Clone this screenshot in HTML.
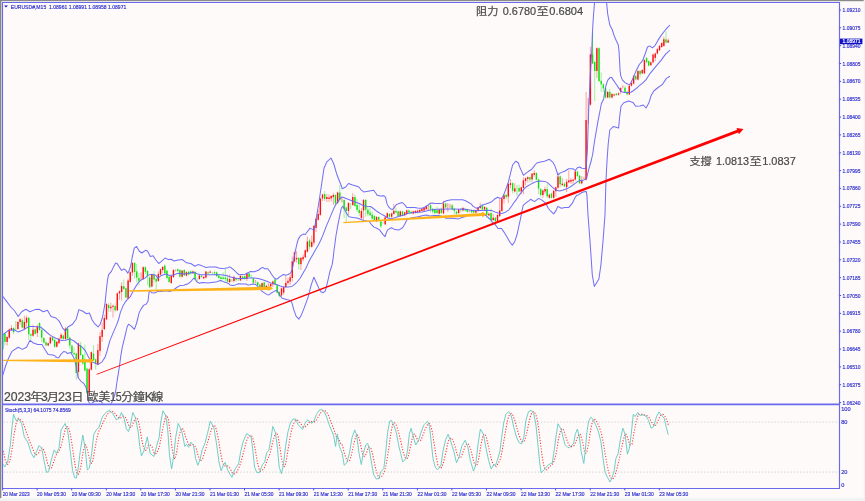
<!DOCTYPE html>
<html lang="zh-Hant"><head><meta charset="utf-8"><title>EURUSD M15</title>
<style>
html,body{margin:0;padding:0;background:#fdfaf9;}
body{width:865px;height:501px;overflow:hidden;font-family:"Liberation Sans","Noto Sans CJK TC",sans-serif;}
svg{display:block}
.ax{font-family:"Liberation Sans",sans-serif;font-size:5.6px;fill:#3232d0;stroke:#3232d0;stroke-width:0.18px;}
.note{font-family:"Liberation Sans","Noto Sans CJK TC",sans-serif;fill:#4a4a4a;stroke:#4a4a4a;stroke-width:0.22px;}
</style></head><body>
<svg width="865" height="501" viewBox="0 0 865 501">
<defs>
<clipPath id="main"><rect x="3" y="3" width="836.5" height="400.5"/></clipPath>
<clipPath id="sub"><rect x="3" y="405" width="836.5" height="83"/></clipPath>
</defs>
<rect width="865" height="501" fill="#fdfaf9"/>
<rect x="0" y="0" width="864" height="1.2" fill="#8a8a8a"/>
<rect x="0" y="0" width="1.35" height="498.3" fill="#868686"/>
<rect x="863.7" y="0" width="1.3" height="501" fill="#f4f3f3"/>
<rect x="0" y="498.3" width="865" height="2.7" fill="#f3f2f2"/>

<g stroke="#6a6aee" stroke-width="1.15" fill="none">
<line x1="2" y1="2.5" x2="840" y2="2.5"/>
<line x1="2.5" y1="2" x2="2.5" y2="489"/>
<line x1="839.5" y1="2" x2="839.5" y2="489"/>
<line x1="2" y1="404.4" x2="840" y2="404.4" stroke-width="1.8"/>
<line x1="2" y1="488.5" x2="840" y2="488.5"/>
</g>
<g class="ax">
<line x1="839.5" y1="10.0" x2="841.1" y2="10.0" stroke="#4a4ae0" stroke-width="1"/>
<text x="842.6" y="12.0" textLength="17.8" lengthAdjust="spacingAndGlyphs">1.09210</text>
<line x1="839.5" y1="27.8" x2="841.1" y2="27.8" stroke="#4a4ae0" stroke-width="1"/>
<text x="842.6" y="29.8" textLength="17.8" lengthAdjust="spacingAndGlyphs">1.09075</text>
<line x1="839.5" y1="45.7" x2="841.1" y2="45.7" stroke="#4a4ae0" stroke-width="1"/>
<text x="842.6" y="47.7" textLength="17.8" lengthAdjust="spacingAndGlyphs">1.08940</text>
<line x1="839.5" y1="63.5" x2="841.1" y2="63.5" stroke="#4a4ae0" stroke-width="1"/>
<text x="842.6" y="65.5" textLength="17.8" lengthAdjust="spacingAndGlyphs">1.08805</text>
<line x1="839.5" y1="81.4" x2="841.1" y2="81.4" stroke="#4a4ae0" stroke-width="1"/>
<text x="842.6" y="83.4" textLength="17.8" lengthAdjust="spacingAndGlyphs">1.08670</text>
<line x1="839.5" y1="99.2" x2="841.1" y2="99.2" stroke="#4a4ae0" stroke-width="1"/>
<text x="842.6" y="101.2" textLength="17.8" lengthAdjust="spacingAndGlyphs">1.08535</text>
<line x1="839.5" y1="117.1" x2="841.1" y2="117.1" stroke="#4a4ae0" stroke-width="1"/>
<text x="842.6" y="119.1" textLength="17.8" lengthAdjust="spacingAndGlyphs">1.08400</text>
<line x1="839.5" y1="134.9" x2="841.1" y2="134.9" stroke="#4a4ae0" stroke-width="1"/>
<text x="842.6" y="136.9" textLength="17.8" lengthAdjust="spacingAndGlyphs">1.08265</text>
<line x1="839.5" y1="152.8" x2="841.1" y2="152.8" stroke="#4a4ae0" stroke-width="1"/>
<text x="842.6" y="154.8" textLength="17.8" lengthAdjust="spacingAndGlyphs">1.08130</text>
<line x1="839.5" y1="170.6" x2="841.1" y2="170.6" stroke="#4a4ae0" stroke-width="1"/>
<text x="842.6" y="172.6" textLength="17.8" lengthAdjust="spacingAndGlyphs">1.07995</text>
<line x1="839.5" y1="188.4" x2="841.1" y2="188.4" stroke="#4a4ae0" stroke-width="1"/>
<text x="842.6" y="190.4" textLength="17.8" lengthAdjust="spacingAndGlyphs">1.07860</text>
<line x1="839.5" y1="206.3" x2="841.1" y2="206.3" stroke="#4a4ae0" stroke-width="1"/>
<text x="842.6" y="208.3" textLength="17.8" lengthAdjust="spacingAndGlyphs">1.07725</text>
<line x1="839.5" y1="224.1" x2="841.1" y2="224.1" stroke="#4a4ae0" stroke-width="1"/>
<text x="842.6" y="226.1" textLength="17.8" lengthAdjust="spacingAndGlyphs">1.07590</text>
<line x1="839.5" y1="242.0" x2="841.1" y2="242.0" stroke="#4a4ae0" stroke-width="1"/>
<text x="842.6" y="244.0" textLength="17.8" lengthAdjust="spacingAndGlyphs">1.07455</text>
<line x1="839.5" y1="259.8" x2="841.1" y2="259.8" stroke="#4a4ae0" stroke-width="1"/>
<text x="842.6" y="261.8" textLength="17.8" lengthAdjust="spacingAndGlyphs">1.07320</text>
<line x1="839.5" y1="277.7" x2="841.1" y2="277.7" stroke="#4a4ae0" stroke-width="1"/>
<text x="842.6" y="279.7" textLength="17.8" lengthAdjust="spacingAndGlyphs">1.07185</text>
<line x1="839.5" y1="295.5" x2="841.1" y2="295.5" stroke="#4a4ae0" stroke-width="1"/>
<text x="842.6" y="297.5" textLength="17.8" lengthAdjust="spacingAndGlyphs">1.07050</text>
<line x1="839.5" y1="313.4" x2="841.1" y2="313.4" stroke="#4a4ae0" stroke-width="1"/>
<text x="842.6" y="315.4" textLength="17.8" lengthAdjust="spacingAndGlyphs">1.06915</text>
<line x1="839.5" y1="331.2" x2="841.1" y2="331.2" stroke="#4a4ae0" stroke-width="1"/>
<text x="842.6" y="333.2" textLength="17.8" lengthAdjust="spacingAndGlyphs">1.06780</text>
<line x1="839.5" y1="349.1" x2="841.1" y2="349.1" stroke="#4a4ae0" stroke-width="1"/>
<text x="842.6" y="351.1" textLength="17.8" lengthAdjust="spacingAndGlyphs">1.06645</text>
<line x1="839.5" y1="366.9" x2="841.1" y2="366.9" stroke="#4a4ae0" stroke-width="1"/>
<text x="842.6" y="368.9" textLength="17.8" lengthAdjust="spacingAndGlyphs">1.06510</text>
<line x1="839.5" y1="384.7" x2="841.1" y2="384.7" stroke="#4a4ae0" stroke-width="1"/>
<text x="842.6" y="386.7" textLength="17.8" lengthAdjust="spacingAndGlyphs">1.06375</text>
<line x1="839.5" y1="402.6" x2="841.1" y2="402.6" stroke="#4a4ae0" stroke-width="1"/>
<text x="842.6" y="404.6" textLength="17.8" lengthAdjust="spacingAndGlyphs">1.06240</text>
<text x="841.2" y="411.0">100</text>
<text x="841.2" y="424.2">80</text>
<text x="841.2" y="474.1">20</text>
<text x="841.2" y="486.9">0</text>
</g>
<rect x="840" y="38.6" width="22.4" height="5.6" fill="#1010c8"/>
<text x="842.6" y="43.3" class="ax" style="fill:#fff;stroke:#fff" textLength="17.8" lengthAdjust="spacingAndGlyphs">1.08971</text>
<g class="ax">
<line x1="2.7" y1="488.5" x2="2.7" y2="490.4" stroke="#4a4ae0" stroke-width="1"/>
<text x="2.7" y="495.9" textLength="27.0" lengthAdjust="spacingAndGlyphs">20 Mar 2023</text>
<line x1="37.1" y1="488.5" x2="37.1" y2="490.4" stroke="#4a4ae0" stroke-width="1"/>
<text x="37.1" y="495.9" textLength="29.0" lengthAdjust="spacingAndGlyphs">20 Mar 05:30</text>
<line x1="71.7" y1="488.5" x2="71.7" y2="490.4" stroke="#4a4ae0" stroke-width="1"/>
<text x="71.7" y="495.9" textLength="29.0" lengthAdjust="spacingAndGlyphs">20 Mar 09:30</text>
<line x1="106.3" y1="488.5" x2="106.3" y2="490.4" stroke="#4a4ae0" stroke-width="1"/>
<text x="106.3" y="495.9" textLength="29.0" lengthAdjust="spacingAndGlyphs">20 Mar 13:30</text>
<line x1="140.8" y1="488.5" x2="140.8" y2="490.4" stroke="#4a4ae0" stroke-width="1"/>
<text x="140.8" y="495.9" textLength="29.0" lengthAdjust="spacingAndGlyphs">20 Mar 17:30</text>
<line x1="175.4" y1="488.5" x2="175.4" y2="490.4" stroke="#4a4ae0" stroke-width="1"/>
<text x="175.4" y="495.9" textLength="29.0" lengthAdjust="spacingAndGlyphs">20 Mar 21:30</text>
<line x1="210.0" y1="488.5" x2="210.0" y2="490.4" stroke="#4a4ae0" stroke-width="1"/>
<text x="210.0" y="495.9" textLength="29.0" lengthAdjust="spacingAndGlyphs">21 Mar 01:30</text>
<line x1="244.5" y1="488.5" x2="244.5" y2="490.4" stroke="#4a4ae0" stroke-width="1"/>
<text x="244.5" y="495.9" textLength="29.0" lengthAdjust="spacingAndGlyphs">21 Mar 05:30</text>
<line x1="279.1" y1="488.5" x2="279.1" y2="490.4" stroke="#4a4ae0" stroke-width="1"/>
<text x="279.1" y="495.9" textLength="29.0" lengthAdjust="spacingAndGlyphs">21 Mar 09:30</text>
<line x1="313.7" y1="488.5" x2="313.7" y2="490.4" stroke="#4a4ae0" stroke-width="1"/>
<text x="313.7" y="495.9" textLength="29.0" lengthAdjust="spacingAndGlyphs">21 Mar 13:30</text>
<line x1="348.2" y1="488.5" x2="348.2" y2="490.4" stroke="#4a4ae0" stroke-width="1"/>
<text x="348.2" y="495.9" textLength="29.0" lengthAdjust="spacingAndGlyphs">21 Mar 17:30</text>
<line x1="382.8" y1="488.5" x2="382.8" y2="490.4" stroke="#4a4ae0" stroke-width="1"/>
<text x="382.8" y="495.9" textLength="29.0" lengthAdjust="spacingAndGlyphs">21 Mar 21:30</text>
<line x1="417.4" y1="488.5" x2="417.4" y2="490.4" stroke="#4a4ae0" stroke-width="1"/>
<text x="417.4" y="495.9" textLength="29.0" lengthAdjust="spacingAndGlyphs">22 Mar 01:30</text>
<line x1="451.9" y1="488.5" x2="451.9" y2="490.4" stroke="#4a4ae0" stroke-width="1"/>
<text x="451.9" y="495.9" textLength="29.0" lengthAdjust="spacingAndGlyphs">22 Mar 05:30</text>
<line x1="486.5" y1="488.5" x2="486.5" y2="490.4" stroke="#4a4ae0" stroke-width="1"/>
<text x="486.5" y="495.9" textLength="29.0" lengthAdjust="spacingAndGlyphs">22 Mar 09:30</text>
<line x1="521.1" y1="488.5" x2="521.1" y2="490.4" stroke="#4a4ae0" stroke-width="1"/>
<text x="521.1" y="495.9" textLength="29.0" lengthAdjust="spacingAndGlyphs">22 Mar 13:30</text>
<line x1="555.6" y1="488.5" x2="555.6" y2="490.4" stroke="#4a4ae0" stroke-width="1"/>
<text x="555.6" y="495.9" textLength="29.0" lengthAdjust="spacingAndGlyphs">22 Mar 17:30</text>
<line x1="590.2" y1="488.5" x2="590.2" y2="490.4" stroke="#4a4ae0" stroke-width="1"/>
<text x="590.2" y="495.9" textLength="29.0" lengthAdjust="spacingAndGlyphs">22 Mar 21:30</text>
<line x1="624.8" y1="488.5" x2="624.8" y2="490.4" stroke="#4a4ae0" stroke-width="1"/>
<text x="624.8" y="495.9" textLength="29.0" lengthAdjust="spacingAndGlyphs">23 Mar 01:30</text>
<line x1="659.3" y1="488.5" x2="659.3" y2="490.4" stroke="#4a4ae0" stroke-width="1"/>
<text x="659.3" y="495.9" textLength="29.0" lengthAdjust="spacingAndGlyphs">23 Mar 05:30</text>
</g>
<path d="M4.1 5.6 L7.9 5.6 L6 7.6 Z" fill="#1818c8"/>
<text x="10.8" y="8.5" class="ax" textLength="115.5" lengthAdjust="spacingAndGlyphs" style="white-space:pre">EURUSD#,M15  1.08961 1.08991 1.08958 1.08971</text>
<text x="4.9" y="412" class="ax" textLength="66" lengthAdjust="spacingAndGlyphs">Stoch(5,3,3) 64.1075 74.8569</text>
<g stroke="#cccccc" stroke-width="0.9" stroke-dasharray="1.3 1.9" fill="none">
<line x1="3.5" y1="422.1" x2="839" y2="422.1"/><line x1="3.5" y1="472.1" x2="839" y2="472.1"/></g>
<g clip-path="url(#sub)" fill="none" stroke-linejoin="round">
<polyline points="3.2,450.9 4.3,455.7 5.4,460.5 6.4,462.5 7.5,464.5 8.6,463.4 9.7,460.9 10.7,457.1 11.8,450.7 12.9,443.6 14.0,434.8 15.1,429.2 16.1,423.5 17.2,420.5 18.3,418.2 19.4,418.8 20.5,420.0 21.5,420.8 22.6,422.0 23.7,424.3 24.8,427.5 25.8,430.6 26.9,433.8 28.0,436.9 29.1,440.1 30.2,442.5 31.2,445.1 32.3,447.8 33.4,450.4 34.5,453.1 35.6,454.1 36.6,454.8 37.7,453.7 38.8,452.7 39.9,450.4 40.9,449.0 42.0,447.9 43.1,448.9 44.2,450.6 45.3,454.3 46.3,458.3 47.4,462.8 48.5,466.3 49.6,468.7 50.7,468.7 51.7,467.6 52.8,464.6 53.9,461.2 55.0,457.4 56.0,455.2 57.1,453.3 58.2,451.9 59.3,450.6 60.4,448.1 61.4,444.6 62.5,440.3 63.6,435.9 64.7,431.7 65.8,427.6 66.8,426.8 67.9,426.7 69.0,429.4 70.1,432.8 71.1,438.9 72.2,445.7 73.3,453.7 74.4,460.7 75.5,467.5 76.5,471.7 77.6,474.5 78.7,473.9 79.8,470.9 80.9,466.1 81.9,459.8 83.0,452.6 84.1,447.8 85.2,444.6 86.2,445.6 87.3,448.9 88.4,454.0 89.5,459.2 90.6,462.5 91.6,463.4 92.7,461.1 93.8,455.3 94.9,449.2 96.0,443.0 97.0,437.6 98.1,433.4 99.2,430.4 100.3,428.6 101.3,426.5 102.4,424.2 103.5,422.0 104.6,419.6 105.7,417.3 106.7,415.3 107.8,413.8 108.9,412.8 110.0,411.9 111.1,411.5 112.1,411.4 113.2,411.8 114.3,412.5 115.4,413.9 116.4,415.5 117.5,416.5 118.6,417.7 119.7,418.2 120.8,417.9 121.8,416.8 122.9,416.3 124.0,416.1 125.1,416.8 126.1,418.4 127.2,421.3 128.3,424.2 129.4,426.7 130.5,427.4 131.5,427.3 132.6,424.6 133.7,421.9 134.8,419.5 135.9,417.6 136.9,418.1 138.0,419.5 139.1,424.3 140.2,429.9 141.2,436.2 142.3,442.6 143.4,446.5 144.5,450.2 145.6,450.5 146.6,449.6 147.7,446.0 148.8,445.1 149.9,444.4 151.0,446.0 152.0,446.9 153.1,450.3 154.2,453.0 155.3,454.1 156.3,453.3 157.4,451.4 158.5,449.1 159.6,445.6 160.7,440.0 161.7,434.6 162.8,428.4 163.9,423.3 165.0,418.8 166.1,415.5 167.1,416.3 168.2,418.5 169.3,426.0 170.4,433.7 171.4,443.0 172.5,451.1 173.6,456.0 174.7,459.1 175.8,455.6 176.8,451.5 177.9,443.7 179.0,437.1 180.1,432.2 181.2,428.8 182.2,428.4 183.3,429.4 184.4,432.7 185.5,436.9 186.5,439.0 187.6,442.4 188.7,444.3 189.8,445.8 190.9,445.0 191.9,444.6 193.0,444.7 194.1,444.7 195.2,446.6 196.3,449.0 197.3,452.8 198.4,456.5 199.5,458.9 200.6,461.3 201.6,459.9 202.7,458.5 203.8,455.1 204.9,451.7 206.0,448.2 207.0,444.2 208.1,440.9 209.2,437.0 210.3,433.0 211.4,429.4 212.4,427.0 213.5,425.4 214.6,425.4 215.7,427.5 216.7,431.2 217.8,436.5 218.9,442.2 220.0,449.1 221.1,455.4 222.1,460.7 223.2,464.0 224.3,466.0 225.4,466.0 226.4,466.3 227.5,465.9 228.6,466.6 229.7,467.7 230.8,469.8 231.8,472.1 232.9,473.8 234.0,474.0 235.1,473.7 236.2,472.6 237.2,471.1 238.3,468.9 239.4,466.5 240.5,463.3 241.5,460.0 242.6,455.9 243.7,451.8 244.8,447.3 245.9,443.1 246.9,440.0 248.0,437.6 249.1,436.1 250.2,435.5 251.3,435.2 252.3,437.1 253.4,440.4 254.5,445.9 255.6,451.6 256.6,457.6 257.7,463.5 258.8,467.9 259.9,471.1 261.0,471.2 262.0,470.8 263.1,469.1 264.2,467.8 265.3,465.6 266.4,462.5 267.4,459.6 268.5,457.2 269.6,454.7 270.7,450.7 271.7,446.5 272.8,441.7 273.9,438.2 275.0,434.6 276.1,432.6 277.1,433.8 278.2,436.7 279.3,444.2 280.4,450.4 281.5,458.1 282.5,463.3 283.6,466.6 284.7,466.5 285.8,462.7 286.8,457.6 287.9,450.6 289.0,443.8 290.1,437.3 291.2,431.8 292.2,427.7 293.3,424.2 294.4,422.2 295.5,420.4 296.6,420.0 297.6,420.2 298.7,421.1 299.8,422.3 300.9,423.7 301.9,425.3 303.0,426.9 304.1,427.0 305.2,426.9 306.3,425.9 307.3,424.9 308.4,423.3 309.5,422.1 310.6,421.4 311.7,421.6 312.7,421.6 313.8,421.9 314.9,421.6 316.0,420.7 317.0,419.2 318.1,417.3 319.2,415.2 320.3,413.4 321.4,411.8 322.4,410.9 323.5,410.5 324.6,410.4 325.7,411.3 326.8,412.4 327.8,414.3 328.9,416.5 330.0,419.2 331.1,422.0 332.1,424.8 333.2,427.6 334.3,430.6 335.4,434.3 336.5,437.0 337.5,437.2 338.6,439.6 339.7,441.0 340.8,443.7 341.8,444.0 342.9,446.8 344.0,452.0 345.1,455.8 346.2,458.5 347.2,460.7 348.3,461.3 349.4,461.2 350.5,458.0 351.6,454.2 352.6,449.2 353.7,444.7 354.8,439.8 355.9,436.6 356.9,434.4 358.0,435.6 359.1,438.3 360.2,442.8 361.3,448.3 362.3,453.0 363.4,455.6 364.5,456.5 365.6,455.1 366.7,452.7 367.7,449.2 368.8,447.1 369.9,447.0 371.0,448.5 372.0,451.8 373.1,456.4 374.2,461.9 375.3,466.8 376.4,471.4 377.4,474.5 378.5,476.9 379.6,477.9 380.7,477.0 381.8,476.2 382.8,474.3 383.9,472.9 385.0,469.3 386.1,464.9 387.1,459.1 388.2,452.0 389.3,444.5 390.4,436.0 391.5,430.2 392.5,424.9 393.6,423.5 394.7,422.8 395.8,424.4 396.9,426.5 397.9,430.2 399.0,434.0 400.1,438.6 401.2,443.0 402.2,448.0 403.3,452.8 404.4,455.6 405.5,458.1 406.6,458.8 407.6,458.1 408.7,454.8 409.8,449.2 410.9,444.8 412.0,439.1 413.0,436.5 414.1,434.0 415.2,435.2 416.3,437.1 417.3,439.3 418.4,441.2 419.5,441.3 420.6,440.6 421.7,438.4 422.7,435.5 423.8,432.9 424.9,429.9 426.0,427.5 427.1,425.4 428.1,423.8 429.2,423.6 430.3,424.3 431.4,428.1 432.4,432.5 433.5,440.0 434.6,446.1 435.7,454.1 436.8,459.5 437.8,464.6 438.9,466.5 440.0,467.9 441.1,468.0 442.1,466.2 443.2,463.0 444.3,459.0 445.4,454.6 446.5,449.5 447.5,444.6 448.6,440.6 449.7,439.1 450.8,437.8 451.9,438.9 452.9,440.2 454.0,443.3 455.1,446.8 456.2,450.6 457.2,454.4 458.3,456.3 459.4,458.1 460.5,457.5 461.6,456.5 462.6,453.2 463.7,450.2 464.8,447.1 465.9,444.6 467.0,443.7 468.0,443.4 469.1,445.3 470.2,447.7 471.3,451.8 472.3,455.8 473.4,460.4 474.5,463.9 475.6,465.8 476.7,465.6 477.7,462.7 478.8,458.1 479.9,451.7 481.0,444.5 482.1,439.6 483.1,434.9 484.2,434.1 485.3,434.4 486.4,437.7 487.4,442.0 488.5,446.5 489.6,451.6 490.7,456.4 491.8,460.9 492.8,463.2 493.9,465.3 495.0,465.8 496.1,466.6 497.2,464.9 498.2,463.4 499.3,461.0 500.4,458.9 501.5,453.9 502.5,448.8 503.6,442.3 504.7,436.2 505.8,429.5 506.9,423.5 507.9,419.2 509.0,415.7 510.1,414.3 511.2,413.4 512.3,414.5 513.3,416.3 514.4,419.3 515.5,422.8 516.6,426.8 517.6,430.7 518.7,434.4 519.8,437.4 520.9,439.7 522.0,441.6 523.0,441.8 524.1,441.6 525.2,438.6 526.3,434.8 527.4,430.1 528.4,424.9 529.5,420.1 530.6,415.7 531.7,413.1 532.7,412.1 533.8,411.5 534.9,413.0 536.0,415.2 537.1,419.4 538.1,425.3 539.2,432.8 540.3,441.9 541.4,450.6 542.5,458.5 543.5,464.2 544.6,468.2 545.7,469.9 546.8,469.8 547.8,468.5 548.9,467.4 550.0,466.3 551.1,465.3 552.2,464.5 553.2,463.1 554.3,460.3 555.4,456.7 556.5,451.4 557.5,445.6 558.6,438.3 559.7,434.0 560.8,429.7 561.9,428.7 562.9,428.6 564.0,431.4 565.1,434.9 566.2,438.0 567.3,441.1 568.3,443.7 569.4,445.6 570.5,446.6 571.6,446.6 572.6,446.5 573.7,445.9 574.8,444.1 575.9,441.5 577.0,438.9 578.0,435.9 579.1,435.0 580.2,434.0 581.3,437.5 582.4,440.6 583.4,446.6 584.5,451.7 585.6,453.2 586.7,452.8 587.7,447.7 588.8,442.7 589.9,434.7 591.0,427.9 592.1,422.9 593.1,420.2 594.2,419.3 595.3,419.8 596.4,421.0 597.5,423.0 598.5,425.2 599.6,428.1 600.7,431.2 601.8,435.2 602.8,440.2 603.9,446.1 605.0,452.7 606.1,459.1 607.2,465.0 608.2,470.3 609.3,474.2 610.4,477.5 611.5,478.4 612.6,479.1 613.6,478.1 614.7,476.9 615.8,472.8 616.9,468.9 617.9,464.5 619.0,460.2 620.1,454.7 621.2,449.4 622.3,444.7 623.3,439.7 624.4,436.5 625.5,433.6 626.6,435.4 627.7,437.8 628.7,441.6 629.8,444.5 630.9,445.0 632.0,444.2 633.0,438.6 634.1,432.0 635.2,426.6 636.3,420.9 637.4,417.5 638.4,414.2 639.5,414.6 640.6,414.4 641.7,414.4 642.8,414.3 643.8,414.7 644.9,415.2 646.0,415.3 647.1,415.8 648.1,416.5 649.2,417.7 650.3,419.5 651.4,421.7 652.5,423.5 653.5,425.0 654.6,425.8 655.7,425.3 656.8,423.7 657.8,421.3 658.9,418.9 660.0,416.5 661.1,414.9 662.2,414.3 663.2,414.5 664.3,415.1 665.4,417.0 666.5,419.5 667.6,422.4 668.6,425.7" stroke="#ff3c3c" stroke-width="1.1" stroke-dasharray="1.2 1.6"/>
<polyline points="2.6,463.8 4.9,466.9 7.8,461.2 10.4,444.7 12.2,425.6 13.5,414.3 16.0,420.4 19.1,419.5 21.7,423.8 24.3,436.9 27.8,442.1 31.3,453.3 33.9,457.7 36.5,451.6 39.1,445.5 41.7,448.1 44.3,462.0 46.5,472.4 48.6,471.6 51.2,460.3 54.2,449.9 56.4,453.3 59.0,448.1 61.1,429.9 65.1,423.5 67.7,430.8 70.3,451.6 72.6,470.7 74.7,477.7 76.4,478.0 78.1,469.0 80.2,451.6 82.8,435.1 85.1,448.1 87.3,469.8 89.4,468.1 91.7,453.3 93.8,434.3 96.4,429.9 99.0,427.3 102.4,416.9 105.9,412.5 109.4,410.3 112.8,413.4 116.0,419.5 118.9,418.6 121.5,412.5 124.1,418.6 126.4,429.0 128.5,431.6 130.6,423.8 132.8,412.5 135.4,417.8 138.0,430.8 139.8,446.4 141.5,456.0 144.3,449.9 147.3,436.9 150.1,453.3 153.9,456.5 156.5,446.4 159.1,437.7 160.8,422.1 162.9,410.8 165.7,415.2 167.8,430.8 169.5,455.1 171.6,469.0 173.9,455.1 175.6,437.7 178.2,423.5 181.7,430.8 184.8,446.4 186.5,444.3 188.6,447.3 190.9,442.1 193.5,445.5 195.6,458.6 197.8,465.2 199.9,460.3 202.2,449.9 205.1,442.9 207.7,432.5 210.3,421.2 213.8,427.3 216.4,442.9 219.0,462.0 221.1,470.7 223.3,465.5 225.1,462.4 227.7,469.8 229.9,474.2 232.0,477.3 234.6,469.8 238.6,463.8 240.7,451.6 243.3,441.2 246.8,433.4 251.1,436.9 252.8,449.9 254.6,467.2 256.7,472.4 259.4,472.8 262.4,464.6 264.7,462.0 266.7,452.5 268.8,450.7 271.1,437.7 272.8,426.4 275.4,432.5 277.5,448.1 279.2,467.2 281.5,473.8 283.5,463.8 285.6,446.4 287.8,432.5 290.4,423.0 293.0,419.0 295.6,419.0 298.2,424.7 302.6,429.4 305.2,423.0 307.4,420.0 309.5,421.2 311.6,423.5 313.9,421.2 316.5,414.3 319.1,410.3 321.7,409.6 324.3,411.7 326.9,417.8 329.5,425.6 333.5,435.1 335.6,446.4 337.3,433.9 339.4,446.4 342.2,453.3 344.2,465.2 346.8,462.9 349.4,453.3 352.0,437.7 354.7,429.9 356.7,435.1 359.0,453.3 361.3,464.6 363.3,453.3 365.9,444.7 367.7,443.3 369.4,449.9 371.7,463.8 373.8,475.0 376.4,479.0 379.0,478.5 380.7,471.6 383.8,468.6 385.6,453.3 387.6,432.5 389.7,421.2 391.5,420.4 393.7,424.7 396.3,432.5 398.9,446.4 400.7,453.3 402.7,462.0 405.9,458.6 407.6,449.9 409.3,434.3 411.1,428.2 413.3,436.9 415.8,445.0 418.9,439.5 421.5,430.8 424.1,424.7 427.6,421.2 429.5,426.5 431.3,442.9 433.0,458.6 435.3,467.2 437.4,469.8 440.8,466.4 442.9,451.6 445.7,439.5 448.1,434.3 450.4,440.3 453.9,451.6 456.5,462.9 459.1,456.8 461.7,446.4 465.1,440.3 467.7,446.4 470.3,460.3 473.5,471.1 475.6,465.5 478.2,442.9 480.4,429.0 483.4,434.3 486.0,448.1 488.6,460.3 491.2,469.0 493.8,464.6 495.5,465.5 497.3,460.3 499.9,451.6 501.6,437.7 503.7,423.0 505.9,414.3 508.5,411.7 511.1,415.2 513.8,427.3 516.4,436.9 519.0,442.6 521.6,443.8 523.8,437.7 525.9,420.4 528.5,411.7 531.1,410.3 533.7,413.4 536.0,425.6 538.1,446.4 539.8,463.8 541.2,472.8 544.1,469.8 547.6,465.5 550.2,463.8 552.3,462.9 554.5,448.1 556.3,434.3 558.0,423.8 561.0,429.0 563.2,437.7 565.0,444.7 567.6,447.3 569.5,447.8 571.3,445.5 573.5,443.8 575.3,434.3 577.4,429.0 579.4,436.9 581.2,451.6 583.8,463.4 585.2,451.6 586.9,432.5 588.6,421.2 590.9,417.2 593.3,419.5 595.6,424.7 598.2,430.8 600.8,441.2 603.1,458.6 605.1,472.4 607.7,477.7 610.0,482.0 612.1,477.7 614.2,470.7 615.9,458.6 618.2,453.3 620.4,439.5 622.8,428.2 625.1,434.3 627.4,454.2 629.4,448.1 631.2,434.3 633.3,414.3 635.0,416.5 637.8,412.5 640.2,415.5 643.0,414.8 645.9,416.0 648.5,420.4 651.1,428.2 653.8,426.4 656.4,416.9 659.0,412.0 661.6,415.2 664.2,418.3 666.3,427.3 668.2,434.6" stroke="#5ecac2" stroke-width="0.9"/>
</g>
<g clip-path="url(#main)">
<line x1="2.80" y1="333.4" x2="2.80" y2="349.9" stroke="#10e010" stroke-width="0.9" opacity="0.42"/>
<rect x="2.10" y="334.3" width="1.4" height="14.7" fill="#10e010"/>
<line x1="4.96" y1="332.7" x2="4.96" y2="345.4" stroke="#10e010" stroke-width="0.9" opacity="0.42"/>
<rect x="4.26" y="333.6" width="1.4" height="8.3" fill="#10e010"/>
<line x1="7.12" y1="336.1" x2="7.12" y2="345.4" stroke="#ff1010" stroke-width="0.9" opacity="0.42"/>
<rect x="6.42" y="337.0" width="1.4" height="4.9" fill="#ff1010"/>
<line x1="9.28" y1="328.5" x2="9.28" y2="338.6" stroke="#ff1010" stroke-width="0.9" opacity="0.42"/>
<rect x="8.58" y="329.4" width="1.4" height="8.3" fill="#ff1010"/>
<line x1="11.44" y1="325.2" x2="11.44" y2="330.8" stroke="#ff1010" stroke-width="0.9" opacity="0.42"/>
<rect x="10.74" y="328.0" width="1.4" height="2.0" fill="#ff1010"/>
<line x1="13.60" y1="327.1" x2="13.60" y2="334.3" stroke="#10e010" stroke-width="0.9" opacity="0.42"/>
<rect x="12.90" y="328.0" width="1.4" height="4.2" fill="#10e010"/>
<rect x="15.11" y="321.0" width="1.3" height="9.0" fill="#10e010" opacity="0.38"/>
<line x1="17.92" y1="321.1" x2="17.92" y2="329.9" stroke="#ff1010" stroke-width="0.9" opacity="0.42"/>
<rect x="17.22" y="322.0" width="1.4" height="7.0" fill="#ff1010"/>
<line x1="20.08" y1="318.3" x2="20.08" y2="324.5" stroke="#ff1010" stroke-width="0.9" opacity="0.42"/>
<rect x="19.38" y="319.2" width="1.4" height="2.8" fill="#ff1010"/>
<line x1="22.24" y1="318.2" x2="22.24" y2="328.5" stroke="#10e010" stroke-width="0.9" opacity="0.42"/>
<rect x="21.54" y="320.3" width="1.4" height="7.3" fill="#10e010"/>
<line x1="24.40" y1="315.7" x2="24.40" y2="329.0" stroke="#ff1010" stroke-width="0.9" opacity="0.42"/>
<rect x="23.70" y="322.0" width="1.4" height="6.7" fill="#ff1010"/>
<line x1="26.56" y1="315.7" x2="26.56" y2="326.6" stroke="#ff1010" stroke-width="0.9" opacity="0.42"/>
<rect x="25.86" y="317.8" width="1.4" height="4.9" fill="#ff1010"/>
<line x1="28.72" y1="316.9" x2="28.72" y2="339.8" stroke="#10e010" stroke-width="0.9" opacity="0.42"/>
<rect x="28.02" y="317.8" width="1.4" height="16.5" fill="#10e010"/>
<line x1="30.88" y1="333.4" x2="30.88" y2="339.8" stroke="#10e010" stroke-width="0.9" opacity="0.42"/>
<rect x="30.18" y="334.3" width="1.4" height="1.4" fill="#10e010"/>
<line x1="33.04" y1="324.8" x2="33.04" y2="336.6" stroke="#ff1010" stroke-width="0.9" opacity="0.42"/>
<rect x="32.34" y="329.7" width="1.4" height="6.0" fill="#ff1010"/>
<line x1="35.20" y1="328.5" x2="35.20" y2="334.8" stroke="#10e010" stroke-width="0.9" opacity="0.42"/>
<rect x="34.50" y="329.4" width="1.4" height="4.5" fill="#10e010"/>
<line x1="37.36" y1="324.8" x2="37.36" y2="337.0" stroke="#ff1010" stroke-width="0.9" opacity="0.42"/>
<rect x="36.66" y="326.6" width="1.4" height="6.3" fill="#ff1010"/>
<line x1="39.53" y1="322.1" x2="39.53" y2="330.9" stroke="#10e010" stroke-width="0.9" opacity="0.42"/>
<rect x="38.83" y="323.0" width="1.4" height="7.0" fill="#10e010"/>
<line x1="41.69" y1="329.1" x2="41.69" y2="342.0" stroke="#10e010" stroke-width="0.9" opacity="0.42"/>
<rect x="40.99" y="330.0" width="1.4" height="7.7" fill="#10e010"/>
<line x1="43.85" y1="337.1" x2="43.85" y2="343.5" stroke="#10e010" stroke-width="0.9" opacity="0.42"/>
<rect x="43.15" y="338.0" width="1.4" height="4.6" fill="#10e010"/>
<line x1="46.01" y1="341.4" x2="46.01" y2="346.3" stroke="#10e010" stroke-width="0.9" opacity="0.42"/>
<rect x="45.31" y="342.3" width="1.4" height="3.1" fill="#10e010"/>
<line x1="48.17" y1="342.4" x2="48.17" y2="346.3" stroke="#ff1010" stroke-width="0.9" opacity="0.42"/>
<rect x="47.47" y="343.3" width="1.4" height="2.1" fill="#ff1010"/>
<line x1="50.33" y1="336.5" x2="50.33" y2="344.2" stroke="#ff1010" stroke-width="0.9" opacity="0.42"/>
<rect x="49.63" y="337.4" width="1.4" height="5.9" fill="#ff1010"/>
<line x1="52.49" y1="336.5" x2="52.49" y2="341.4" stroke="#10e010" stroke-width="0.9" opacity="0.42"/>
<rect x="51.79" y="337.4" width="1.4" height="3.1" fill="#10e010"/>
<line x1="54.65" y1="338.9" x2="54.65" y2="347.7" stroke="#10e010" stroke-width="0.9" opacity="0.42"/>
<rect x="53.95" y="339.8" width="1.4" height="7.0" fill="#10e010"/>
<line x1="56.81" y1="340.9" x2="56.81" y2="347.6" stroke="#ff1010" stroke-width="0.9" opacity="0.42"/>
<rect x="56.11" y="341.8" width="1.4" height="4.9" fill="#ff1010"/>
<line x1="58.97" y1="337.7" x2="58.97" y2="344.1" stroke="#ff1010" stroke-width="0.9" opacity="0.42"/>
<rect x="58.27" y="338.6" width="1.4" height="4.6" fill="#ff1010"/>
<line x1="61.13" y1="333.0" x2="61.13" y2="339.7" stroke="#ff1010" stroke-width="0.9" opacity="0.42"/>
<rect x="60.43" y="334.8" width="1.4" height="3.5" fill="#ff1010"/>
<line x1="63.29" y1="334.6" x2="63.29" y2="340.4" stroke="#10e010" stroke-width="0.9" opacity="0.42"/>
<rect x="62.59" y="335.5" width="1.4" height="3.5" fill="#10e010"/>
<line x1="65.45" y1="327.0" x2="65.45" y2="339.9" stroke="#ff1010" stroke-width="0.9" opacity="0.42"/>
<rect x="64.75" y="328.5" width="1.4" height="10.5" fill="#ff1010"/>
<line x1="67.61" y1="327.6" x2="67.61" y2="339.2" stroke="#10e010" stroke-width="0.9" opacity="0.42"/>
<rect x="66.91" y="328.5" width="1.4" height="9.8" fill="#10e010"/>
<line x1="69.77" y1="336.7" x2="69.77" y2="348.7" stroke="#10e010" stroke-width="0.9" opacity="0.42"/>
<rect x="69.07" y="337.6" width="1.4" height="8.0" fill="#10e010"/>
<line x1="71.93" y1="344.7" x2="71.93" y2="353.9" stroke="#10e010" stroke-width="0.9" opacity="0.42"/>
<rect x="71.23" y="345.6" width="1.4" height="7.4" fill="#10e010"/>
<line x1="74.09" y1="347.4" x2="74.09" y2="355.2" stroke="#10e010" stroke-width="0.9" opacity="0.42"/>
<rect x="73.39" y="353.0" width="1.4" height="1.3" fill="#10e010"/>
<line x1="76.25" y1="352.7" x2="76.25" y2="379.9" stroke="#10e010" stroke-width="0.9" opacity="0.42"/>
<rect x="75.55" y="353.6" width="1.4" height="19.4" fill="#10e010"/>
<line x1="78.41" y1="342.6" x2="78.41" y2="378.0" stroke="#ff1010" stroke-width="0.9" opacity="0.42"/>
<rect x="77.71" y="343.5" width="1.4" height="28.5" fill="#ff1010"/>
<line x1="80.57" y1="341.8" x2="80.57" y2="355.9" stroke="#10e010" stroke-width="0.9" opacity="0.42"/>
<rect x="79.87" y="345.3" width="1.4" height="9.7" fill="#10e010"/>
<line x1="82.73" y1="354.1" x2="82.73" y2="364.5" stroke="#10e010" stroke-width="0.9" opacity="0.42"/>
<rect x="82.03" y="355.0" width="1.4" height="8.6" fill="#10e010"/>
<line x1="84.89" y1="344.6" x2="84.89" y2="371.4" stroke="#10e010" stroke-width="0.9" opacity="0.42"/>
<rect x="84.19" y="359.3" width="1.4" height="11.2" fill="#10e010"/>
<line x1="87.05" y1="367.8" x2="87.05" y2="393.7" stroke="#10e010" stroke-width="0.9" opacity="0.42"/>
<rect x="86.35" y="368.7" width="1.4" height="24.1" fill="#10e010"/>
<line x1="89.21" y1="368.3" x2="89.21" y2="396.0" stroke="#ff1010" stroke-width="0.9" opacity="0.42"/>
<rect x="88.51" y="369.2" width="1.4" height="23.6" fill="#ff1010"/>
<line x1="91.37" y1="351.3" x2="91.37" y2="370.5" stroke="#ff1010" stroke-width="0.9" opacity="0.42"/>
<rect x="90.67" y="352.2" width="1.4" height="17.4" fill="#ff1010"/>
<line x1="93.53" y1="345.3" x2="93.53" y2="360.9" stroke="#10e010" stroke-width="0.9" opacity="0.42"/>
<rect x="92.83" y="353.6" width="1.4" height="6.4" fill="#10e010"/>
<line x1="95.69" y1="358.4" x2="95.69" y2="369.6" stroke="#10e010" stroke-width="0.9" opacity="0.42"/>
<rect x="94.99" y="359.3" width="1.4" height="4.3" fill="#10e010"/>
<line x1="97.85" y1="343.9" x2="97.85" y2="365.3" stroke="#ff1010" stroke-width="0.9" opacity="0.42"/>
<rect x="97.15" y="350.1" width="1.4" height="14.3" fill="#ff1010"/>
<line x1="100.01" y1="332.0" x2="100.01" y2="355.7" stroke="#ff1010" stroke-width="0.9" opacity="0.42"/>
<rect x="99.31" y="336.2" width="1.4" height="14.6" fill="#ff1010"/>
<line x1="102.17" y1="322.8" x2="102.17" y2="341.8" stroke="#ff1010" stroke-width="0.9" opacity="0.42"/>
<rect x="101.47" y="329.9" width="1.4" height="7.0" fill="#ff1010"/>
<line x1="104.33" y1="314.5" x2="104.33" y2="330.0" stroke="#ff1010" stroke-width="0.9" opacity="0.42"/>
<rect x="103.63" y="318.0" width="1.4" height="11.1" fill="#ff1010"/>
<line x1="106.49" y1="303.1" x2="106.49" y2="320.3" stroke="#ff1010" stroke-width="0.9" opacity="0.42"/>
<rect x="105.79" y="304.0" width="1.4" height="15.4" fill="#ff1010"/>
<line x1="108.65" y1="303.3" x2="108.65" y2="311.7" stroke="#10e010" stroke-width="0.9" opacity="0.42"/>
<rect x="107.95" y="305.0" width="1.4" height="3.2" fill="#10e010"/>
<line x1="110.81" y1="302.6" x2="110.81" y2="311.7" stroke="#ff1010" stroke-width="0.9" opacity="0.42"/>
<rect x="110.11" y="306.8" width="1.4" height="1.4" fill="#ff1010"/>
<line x1="112.98" y1="304.8" x2="112.98" y2="317.6" stroke="#ff1010" stroke-width="0.9" opacity="0.42"/>
<rect x="112.28" y="305.7" width="1.4" height="1.1" fill="#ff1010"/>
<line x1="115.14" y1="303.3" x2="115.14" y2="312.4" stroke="#10e010" stroke-width="0.9" opacity="0.42"/>
<rect x="114.44" y="306.1" width="1.4" height="4.2" fill="#10e010"/>
<line x1="117.30" y1="292.5" x2="117.30" y2="311.2" stroke="#ff1010" stroke-width="0.9" opacity="0.42"/>
<rect x="116.60" y="293.4" width="1.4" height="16.9" fill="#ff1010"/>
<line x1="119.46" y1="290.4" x2="119.46" y2="299.8" stroke="#ff1010" stroke-width="0.9" opacity="0.42"/>
<rect x="118.76" y="291.3" width="1.4" height="2.1" fill="#ff1010"/>
<line x1="121.62" y1="282.3" x2="121.62" y2="300.5" stroke="#ff1010" stroke-width="0.9" opacity="0.42"/>
<rect x="120.92" y="286.1" width="1.4" height="5.9" fill="#ff1010"/>
<line x1="123.78" y1="279.5" x2="123.78" y2="289.8" stroke="#10e010" stroke-width="0.9" opacity="0.42"/>
<rect x="123.08" y="286.1" width="1.4" height="2.8" fill="#10e010"/>
<line x1="125.94" y1="287.3" x2="125.94" y2="298.4" stroke="#10e010" stroke-width="0.9" opacity="0.42"/>
<rect x="125.24" y="288.2" width="1.4" height="9.3" fill="#10e010"/>
<line x1="128.10" y1="278.4" x2="128.10" y2="299.3" stroke="#ff1010" stroke-width="0.9" opacity="0.42"/>
<rect x="127.40" y="280.5" width="1.4" height="17.9" fill="#ff1010"/>
<line x1="130.26" y1="271.2" x2="130.26" y2="282.8" stroke="#ff1010" stroke-width="0.9" opacity="0.42"/>
<rect x="129.56" y="272.1" width="1.4" height="9.8" fill="#ff1010"/>
<line x1="132.42" y1="262.1" x2="132.42" y2="276.0" stroke="#ff1010" stroke-width="0.9" opacity="0.42"/>
<rect x="131.72" y="263.0" width="1.4" height="9.5" fill="#ff1010"/>
<line x1="134.58" y1="262.1" x2="134.58" y2="278.8" stroke="#10e010" stroke-width="0.9" opacity="0.42"/>
<rect x="133.88" y="263.0" width="1.4" height="9.1" fill="#10e010"/>
<line x1="136.74" y1="264.1" x2="136.74" y2="282.3" stroke="#10e010" stroke-width="0.9" opacity="0.42"/>
<rect x="136.04" y="271.4" width="1.4" height="6.3" fill="#10e010"/>
<line x1="138.90" y1="273.2" x2="138.90" y2="285.7" stroke="#10e010" stroke-width="0.9" opacity="0.42"/>
<rect x="138.20" y="278.0" width="1.4" height="2.9" fill="#10e010"/>
<rect x="140.41" y="272.5" width="1.3" height="7.5" fill="#ff1010" opacity="0.38"/>
<line x1="143.22" y1="266.3" x2="143.22" y2="280.0" stroke="#ff1010" stroke-width="0.9" opacity="0.42"/>
<rect x="142.52" y="267.2" width="1.4" height="11.9" fill="#ff1010"/>
<line x1="145.38" y1="266.3" x2="145.38" y2="274.0" stroke="#10e010" stroke-width="0.9" opacity="0.42"/>
<rect x="144.68" y="267.2" width="1.4" height="4.6" fill="#10e010"/>
<line x1="147.54" y1="270.1" x2="147.54" y2="285.0" stroke="#10e010" stroke-width="0.9" opacity="0.42"/>
<rect x="146.84" y="271.0" width="1.4" height="5.0" fill="#10e010"/>
<line x1="149.70" y1="276.5" x2="149.70" y2="288.1" stroke="#10e010" stroke-width="0.9" opacity="0.42"/>
<rect x="149.00" y="277.4" width="1.4" height="9.8" fill="#10e010"/>
<line x1="151.86" y1="273.7" x2="151.86" y2="287.4" stroke="#ff1010" stroke-width="0.9" opacity="0.42"/>
<rect x="151.16" y="274.6" width="1.4" height="11.9" fill="#ff1010"/>
<line x1="154.02" y1="271.0" x2="154.02" y2="283.0" stroke="#10e010" stroke-width="0.9" opacity="0.42"/>
<rect x="153.32" y="275.0" width="1.4" height="4.5" fill="#10e010"/>
<line x1="156.18" y1="277.9" x2="156.18" y2="290.0" stroke="#10e010" stroke-width="0.9" opacity="0.42"/>
<rect x="155.48" y="278.8" width="1.4" height="2.8" fill="#10e010"/>
<line x1="158.34" y1="271.4" x2="158.34" y2="281.8" stroke="#ff1010" stroke-width="0.9" opacity="0.42"/>
<rect x="157.64" y="273.9" width="1.4" height="7.0" fill="#ff1010"/>
<line x1="160.50" y1="268.4" x2="160.50" y2="275.5" stroke="#ff1010" stroke-width="0.9" opacity="0.42"/>
<rect x="159.80" y="269.3" width="1.4" height="5.3" fill="#ff1010"/>
<line x1="162.66" y1="266.0" x2="162.66" y2="273.2" stroke="#ff1010" stroke-width="0.9" opacity="0.42"/>
<rect x="161.96" y="266.9" width="1.4" height="3.1" fill="#ff1010"/>
<line x1="164.82" y1="264.6" x2="164.82" y2="274.1" stroke="#10e010" stroke-width="0.9" opacity="0.42"/>
<rect x="164.12" y="265.5" width="1.4" height="7.7" fill="#10e010"/>
<line x1="166.98" y1="269.8" x2="166.98" y2="279.5" stroke="#10e010" stroke-width="0.9" opacity="0.42"/>
<rect x="166.28" y="270.7" width="1.4" height="7.3" fill="#10e010"/>
<line x1="169.14" y1="275.8" x2="169.14" y2="282.9" stroke="#10e010" stroke-width="0.9" opacity="0.42"/>
<rect x="168.44" y="276.7" width="1.4" height="5.3" fill="#10e010"/>
<line x1="171.30" y1="275.1" x2="171.30" y2="283.9" stroke="#ff1010" stroke-width="0.9" opacity="0.42"/>
<rect x="170.60" y="276.0" width="1.4" height="7.0" fill="#ff1010"/>
<line x1="173.46" y1="269.1" x2="173.46" y2="277.9" stroke="#ff1010" stroke-width="0.9" opacity="0.42"/>
<rect x="172.76" y="270.0" width="1.4" height="7.0" fill="#ff1010"/>
<rect x="174.97" y="269.3" width="1.3" height="2.1" fill="#ff1010" opacity="0.38"/>
<line x1="177.78" y1="268.4" x2="177.78" y2="271.9" stroke="#10e010" stroke-width="0.9" opacity="0.42"/>
<rect x="177.08" y="269.3" width="1.4" height="1.7" fill="#10e010"/>
<line x1="179.94" y1="269.1" x2="179.94" y2="277.6" stroke="#10e010" stroke-width="0.9" opacity="0.42"/>
<rect x="179.24" y="270.0" width="1.4" height="6.7" fill="#10e010"/>
<line x1="182.10" y1="269.8" x2="182.10" y2="277.6" stroke="#ff1010" stroke-width="0.9" opacity="0.42"/>
<rect x="181.40" y="270.7" width="1.4" height="6.0" fill="#ff1010"/>
<line x1="184.27" y1="269.1" x2="184.27" y2="276.2" stroke="#10e010" stroke-width="0.9" opacity="0.42"/>
<rect x="183.57" y="270.0" width="1.4" height="5.3" fill="#10e010"/>
<line x1="186.43" y1="271.2" x2="186.43" y2="276.5" stroke="#ff1010" stroke-width="0.9" opacity="0.42"/>
<rect x="185.73" y="272.1" width="1.4" height="3.5" fill="#ff1010"/>
<line x1="188.59" y1="270.9" x2="188.59" y2="275.5" stroke="#10e010" stroke-width="0.9" opacity="0.42"/>
<rect x="187.89" y="271.8" width="1.4" height="2.8" fill="#10e010"/>
<line x1="190.75" y1="270.5" x2="190.75" y2="274.4" stroke="#10e010" stroke-width="0.9" opacity="0.42"/>
<rect x="190.05" y="271.4" width="1.4" height="2.1" fill="#10e010"/>
<line x1="192.91" y1="270.5" x2="192.91" y2="274.1" stroke="#ff1010" stroke-width="0.9" opacity="0.42"/>
<rect x="192.21" y="271.4" width="1.4" height="1.8" fill="#ff1010"/>
<line x1="195.07" y1="270.9" x2="195.07" y2="280.0" stroke="#10e010" stroke-width="0.9" opacity="0.42"/>
<rect x="194.37" y="271.8" width="1.4" height="7.3" fill="#10e010"/>
<rect x="196.58" y="278.4" width="1.3" height="3.3" fill="#10e010" opacity="0.38"/>
<line x1="199.39" y1="274.6" x2="199.39" y2="279.9" stroke="#ff1010" stroke-width="0.9" opacity="0.42"/>
<rect x="198.69" y="275.5" width="1.4" height="3.5" fill="#ff1010"/>
<line x1="201.55" y1="274.9" x2="201.55" y2="277.8" stroke="#10e010" stroke-width="0.9" opacity="0.42"/>
<rect x="200.85" y="275.8" width="1.4" height="1.1" fill="#10e010"/>
<line x1="203.71" y1="276.0" x2="203.71" y2="279.2" stroke="#ff1010" stroke-width="0.9" opacity="0.42"/>
<rect x="203.01" y="276.9" width="1.4" height="1.4" fill="#ff1010"/>
<line x1="205.87" y1="270.7" x2="205.87" y2="278.5" stroke="#ff1010" stroke-width="0.9" opacity="0.42"/>
<rect x="205.17" y="271.6" width="1.4" height="6.0" fill="#ff1010"/>
<line x1="208.03" y1="271.4" x2="208.03" y2="274.3" stroke="#10e010" stroke-width="0.9" opacity="0.42"/>
<rect x="207.33" y="272.3" width="1.4" height="1.1" fill="#10e010"/>
<line x1="210.19" y1="270.6" x2="210.19" y2="273.0" stroke="#ff1010" stroke-width="0.9" opacity="0.42"/>
<rect x="209.49" y="271.6" width="1.4" height="1.1" fill="#ff1010"/>
<rect x="211.70" y="272.0" width="1.3" height="2.0" fill="#10e010" opacity="0.38"/>
<line x1="214.51" y1="270.6" x2="214.51" y2="274.0" stroke="#10e010" stroke-width="0.9" opacity="0.42"/>
<rect x="213.81" y="272.3" width="1.4" height="1.1" fill="#10e010"/>
<line x1="216.67" y1="271.4" x2="216.67" y2="277.1" stroke="#10e010" stroke-width="0.9" opacity="0.42"/>
<rect x="215.97" y="272.3" width="1.4" height="3.9" fill="#10e010"/>
<line x1="218.83" y1="274.9" x2="218.83" y2="278.8" stroke="#10e010" stroke-width="0.9" opacity="0.42"/>
<rect x="218.13" y="275.8" width="1.4" height="2.1" fill="#10e010"/>
<line x1="220.99" y1="276.3" x2="220.99" y2="282.4" stroke="#10e010" stroke-width="0.9" opacity="0.42"/>
<rect x="220.29" y="277.2" width="1.4" height="1.8" fill="#10e010"/>
<line x1="223.15" y1="272.3" x2="223.15" y2="279.7" stroke="#10e010" stroke-width="0.9" opacity="0.42"/>
<rect x="222.45" y="277.6" width="1.4" height="1.4" fill="#10e010"/>
<line x1="225.31" y1="268.5" x2="225.31" y2="281.0" stroke="#10e010" stroke-width="0.9" opacity="0.42"/>
<rect x="224.61" y="277.6" width="1.4" height="1.4" fill="#10e010"/>
<line x1="227.47" y1="274.8" x2="227.47" y2="282.6" stroke="#10e010" stroke-width="0.9" opacity="0.42"/>
<rect x="226.77" y="278.3" width="1.4" height="3.4" fill="#10e010"/>
<line x1="229.63" y1="274.4" x2="229.63" y2="283.0" stroke="#ff1010" stroke-width="0.9" opacity="0.42"/>
<rect x="228.93" y="279.0" width="1.4" height="3.1" fill="#ff1010"/>
<rect x="231.14" y="279.0" width="1.3" height="2.7" fill="#10e010" opacity="0.38"/>
<line x1="233.95" y1="275.5" x2="233.95" y2="282.4" stroke="#ff1010" stroke-width="0.9" opacity="0.42"/>
<rect x="233.25" y="276.9" width="1.4" height="4.1" fill="#ff1010"/>
<line x1="236.11" y1="277.6" x2="236.11" y2="281.7" stroke="#10e010" stroke-width="0.9" opacity="0.42"/>
<rect x="235.41" y="278.3" width="1.4" height="1.4" fill="#10e010"/>
<rect x="237.62" y="278.6" width="1.3" height="2.4" fill="#10e010" opacity="0.38"/>
<line x1="240.43" y1="274.9" x2="240.43" y2="281.3" stroke="#ff1010" stroke-width="0.9" opacity="0.42"/>
<rect x="239.73" y="275.8" width="1.4" height="4.6" fill="#ff1010"/>
<line x1="242.59" y1="275.6" x2="242.59" y2="279.9" stroke="#10e010" stroke-width="0.9" opacity="0.42"/>
<rect x="241.89" y="276.5" width="1.4" height="2.5" fill="#10e010"/>
<line x1="244.75" y1="275.3" x2="244.75" y2="279.9" stroke="#10e010" stroke-width="0.9" opacity="0.42"/>
<rect x="244.05" y="276.2" width="1.4" height="2.8" fill="#10e010"/>
<line x1="246.91" y1="272.5" x2="246.91" y2="281.0" stroke="#ff1010" stroke-width="0.9" opacity="0.42"/>
<rect x="246.21" y="273.4" width="1.4" height="5.6" fill="#ff1010"/>
<line x1="249.07" y1="272.5" x2="249.07" y2="277.8" stroke="#10e010" stroke-width="0.9" opacity="0.42"/>
<rect x="248.37" y="273.4" width="1.4" height="3.5" fill="#10e010"/>
<rect x="250.58" y="274.8" width="1.3" height="3.2" fill="#10e010" opacity="0.38"/>
<line x1="253.39" y1="277.4" x2="253.39" y2="283.8" stroke="#10e010" stroke-width="0.9" opacity="0.42"/>
<rect x="252.69" y="278.3" width="1.4" height="4.6" fill="#10e010"/>
<rect x="254.91" y="280.0" width="1.3" height="3.5" fill="#ff1010" opacity="0.38"/>
<line x1="257.72" y1="281.3" x2="257.72" y2="285.9" stroke="#10e010" stroke-width="0.9" opacity="0.42"/>
<rect x="257.02" y="282.2" width="1.4" height="2.8" fill="#10e010"/>
<line x1="259.88" y1="283.7" x2="259.88" y2="287.9" stroke="#10e010" stroke-width="0.9" opacity="0.42"/>
<rect x="259.18" y="284.6" width="1.4" height="2.4" fill="#10e010"/>
<line x1="262.04" y1="282.3" x2="262.04" y2="287.9" stroke="#ff1010" stroke-width="0.9" opacity="0.42"/>
<rect x="261.34" y="283.2" width="1.4" height="3.8" fill="#ff1010"/>
<line x1="264.20" y1="281.6" x2="264.20" y2="287.9" stroke="#10e010" stroke-width="0.9" opacity="0.42"/>
<rect x="263.50" y="282.5" width="1.4" height="4.5" fill="#10e010"/>
<line x1="266.36" y1="284.8" x2="266.36" y2="287.9" stroke="#ff1010" stroke-width="0.9" opacity="0.42"/>
<rect x="265.66" y="285.7" width="1.4" height="1.3" fill="#ff1010"/>
<rect x="267.87" y="283.2" width="1.3" height="3.2" fill="#ff1010" opacity="0.38"/>
<line x1="270.68" y1="283.1" x2="270.68" y2="287.3" stroke="#ff1010" stroke-width="0.9" opacity="0.42"/>
<rect x="269.98" y="284.0" width="1.4" height="2.4" fill="#ff1010"/>
<line x1="272.84" y1="280.6" x2="272.84" y2="287.0" stroke="#ff1010" stroke-width="0.9" opacity="0.42"/>
<rect x="272.14" y="281.5" width="1.4" height="2.8" fill="#ff1010"/>
<line x1="275.00" y1="278.5" x2="275.00" y2="285.2" stroke="#10e010" stroke-width="0.9" opacity="0.42"/>
<rect x="274.30" y="279.4" width="1.4" height="4.9" fill="#10e010"/>
<line x1="277.16" y1="284.1" x2="277.16" y2="293.5" stroke="#10e010" stroke-width="0.9" opacity="0.42"/>
<rect x="276.46" y="285.0" width="1.4" height="7.6" fill="#10e010"/>
<line x1="279.32" y1="291.1" x2="279.32" y2="297.5" stroke="#10e010" stroke-width="0.9" opacity="0.42"/>
<rect x="278.62" y="292.0" width="1.4" height="4.1" fill="#10e010"/>
<line x1="281.48" y1="287.5" x2="281.48" y2="296.3" stroke="#ff1010" stroke-width="0.9" opacity="0.42"/>
<rect x="280.78" y="288.4" width="1.4" height="7.0" fill="#ff1010"/>
<line x1="283.64" y1="286.1" x2="283.64" y2="294.7" stroke="#ff1010" stroke-width="0.9" opacity="0.42"/>
<rect x="282.94" y="287.0" width="1.4" height="5.6" fill="#ff1010"/>
<line x1="285.80" y1="275.9" x2="285.80" y2="287.9" stroke="#ff1010" stroke-width="0.9" opacity="0.42"/>
<rect x="285.10" y="282.9" width="1.4" height="4.1" fill="#ff1010"/>
<line x1="287.96" y1="278.0" x2="287.96" y2="285.0" stroke="#ff1010" stroke-width="0.9" opacity="0.42"/>
<rect x="287.26" y="280.8" width="1.4" height="2.1" fill="#ff1010"/>
<line x1="290.12" y1="274.5" x2="290.12" y2="285.0" stroke="#ff1010" stroke-width="0.9" opacity="0.42"/>
<rect x="289.42" y="277.3" width="1.4" height="4.2" fill="#ff1010"/>
<line x1="292.28" y1="256.5" x2="292.28" y2="281.5" stroke="#ff1010" stroke-width="0.9" opacity="0.42"/>
<rect x="291.58" y="261.4" width="1.4" height="16.6" fill="#ff1010"/>
<line x1="294.44" y1="251.5" x2="294.44" y2="262.3" stroke="#ff1010" stroke-width="0.9" opacity="0.42"/>
<rect x="293.74" y="252.4" width="1.4" height="9.0" fill="#ff1010"/>
<line x1="296.60" y1="251.0" x2="296.60" y2="262.8" stroke="#ff1010" stroke-width="0.9" opacity="0.42"/>
<rect x="295.90" y="257.9" width="1.4" height="1.4" fill="#ff1010"/>
<line x1="298.76" y1="257.0" x2="298.76" y2="269.6" stroke="#10e010" stroke-width="0.9" opacity="0.42"/>
<rect x="298.06" y="257.9" width="1.4" height="6.3" fill="#10e010"/>
<line x1="300.92" y1="257.0" x2="300.92" y2="270.0" stroke="#ff1010" stroke-width="0.9" opacity="0.42"/>
<rect x="300.22" y="257.9" width="1.4" height="6.3" fill="#ff1010"/>
<line x1="303.08" y1="254.4" x2="303.08" y2="261.4" stroke="#ff1010" stroke-width="0.9" opacity="0.42"/>
<rect x="302.38" y="256.9" width="1.4" height="2.4" fill="#ff1010"/>
<line x1="305.24" y1="249.4" x2="305.24" y2="258.1" stroke="#ff1010" stroke-width="0.9" opacity="0.42"/>
<rect x="304.54" y="250.3" width="1.4" height="6.9" fill="#ff1010"/>
<line x1="307.40" y1="236.6" x2="307.40" y2="252.6" stroke="#ff1010" stroke-width="0.9" opacity="0.42"/>
<rect x="306.70" y="241.5" width="1.4" height="10.2" fill="#ff1010"/>
<line x1="309.56" y1="238.4" x2="309.56" y2="249.6" stroke="#10e010" stroke-width="0.9" opacity="0.42"/>
<rect x="308.86" y="240.5" width="1.4" height="6.3" fill="#10e010"/>
<line x1="311.72" y1="235.6" x2="311.72" y2="247.7" stroke="#ff1010" stroke-width="0.9" opacity="0.42"/>
<rect x="311.02" y="241.9" width="1.4" height="4.9" fill="#ff1010"/>
<line x1="313.88" y1="225.0" x2="313.88" y2="245.4" stroke="#ff1010" stroke-width="0.9" opacity="0.42"/>
<rect x="313.18" y="225.9" width="1.4" height="16.7" fill="#ff1010"/>
<line x1="316.04" y1="218.0" x2="316.04" y2="231.9" stroke="#ff1010" stroke-width="0.9" opacity="0.42"/>
<rect x="315.34" y="218.9" width="1.4" height="9.0" fill="#ff1010"/>
<line x1="318.20" y1="210.0" x2="318.20" y2="220.8" stroke="#ff1010" stroke-width="0.9" opacity="0.42"/>
<rect x="317.50" y="213.9" width="1.4" height="6.0" fill="#ff1010"/>
<line x1="320.36" y1="197.6" x2="320.36" y2="215.8" stroke="#ff1010" stroke-width="0.9" opacity="0.42"/>
<rect x="319.66" y="198.5" width="1.4" height="16.4" fill="#ff1010"/>
<line x1="322.52" y1="193.6" x2="322.52" y2="201.0" stroke="#ff1010" stroke-width="0.9" opacity="0.42"/>
<rect x="321.82" y="194.5" width="1.4" height="4.0" fill="#ff1010"/>
<line x1="324.68" y1="191.0" x2="324.68" y2="201.0" stroke="#10e010" stroke-width="0.9" opacity="0.42"/>
<rect x="323.98" y="194.0" width="1.4" height="5.0" fill="#10e010"/>
<line x1="326.84" y1="194.0" x2="326.84" y2="202.0" stroke="#ff1010" stroke-width="0.9" opacity="0.42"/>
<rect x="326.14" y="197.0" width="1.4" height="2.0" fill="#ff1010"/>
<line x1="329.01" y1="194.5" x2="329.01" y2="202.0" stroke="#ff1010" stroke-width="0.9" opacity="0.42"/>
<rect x="328.31" y="197.5" width="1.4" height="1.5" fill="#ff1010"/>
<line x1="331.17" y1="195.1" x2="331.17" y2="201.5" stroke="#ff1010" stroke-width="0.9" opacity="0.42"/>
<rect x="330.47" y="196.0" width="1.4" height="2.5" fill="#ff1010"/>
<line x1="333.33" y1="193.0" x2="333.33" y2="205.0" stroke="#ff1010" stroke-width="0.9" opacity="0.42"/>
<rect x="332.63" y="195.0" width="1.4" height="2.0" fill="#ff1010"/>
<line x1="335.49" y1="194.1" x2="335.49" y2="206.5" stroke="#10e010" stroke-width="0.9" opacity="0.42"/>
<rect x="334.79" y="195.0" width="1.4" height="8.5" fill="#10e010"/>
<line x1="337.65" y1="191.6" x2="337.65" y2="203.9" stroke="#ff1010" stroke-width="0.9" opacity="0.42"/>
<rect x="336.95" y="192.5" width="1.4" height="10.5" fill="#ff1010"/>
<line x1="339.81" y1="185.0" x2="339.81" y2="202.0" stroke="#10e010" stroke-width="0.9" opacity="0.42"/>
<rect x="339.11" y="192.5" width="1.4" height="7.5" fill="#10e010"/>
<rect x="341.32" y="197.5" width="1.3" height="5.0" fill="#ff1010" opacity="0.38"/>
<line x1="344.13" y1="199.1" x2="344.13" y2="218.0" stroke="#10e010" stroke-width="0.9" opacity="0.42"/>
<rect x="343.43" y="200.0" width="1.4" height="9.0" fill="#10e010"/>
<line x1="346.29" y1="206.6" x2="346.29" y2="222.0" stroke="#10e010" stroke-width="0.9" opacity="0.42"/>
<rect x="345.59" y="207.5" width="1.4" height="3.5" fill="#10e010"/>
<line x1="348.45" y1="202.1" x2="348.45" y2="215.0" stroke="#ff1010" stroke-width="0.9" opacity="0.42"/>
<rect x="347.75" y="203.0" width="1.4" height="8.0" fill="#ff1010"/>
<rect x="349.96" y="203.0" width="1.3" height="6.0" fill="#10e010" opacity="0.38"/>
<line x1="352.77" y1="193.0" x2="352.77" y2="205.9" stroke="#ff1010" stroke-width="0.9" opacity="0.42"/>
<rect x="352.07" y="197.0" width="1.4" height="8.0" fill="#ff1010"/>
<line x1="354.93" y1="194.5" x2="354.93" y2="206.9" stroke="#10e010" stroke-width="0.9" opacity="0.42"/>
<rect x="354.23" y="197.0" width="1.4" height="9.0" fill="#10e010"/>
<line x1="357.09" y1="199.0" x2="357.09" y2="212.0" stroke="#10e010" stroke-width="0.9" opacity="0.42"/>
<rect x="356.39" y="205.0" width="1.4" height="5.0" fill="#10e010"/>
<line x1="359.25" y1="204.0" x2="359.25" y2="216.0" stroke="#10e010" stroke-width="0.9" opacity="0.42"/>
<rect x="358.55" y="210.0" width="1.4" height="3.0" fill="#10e010"/>
<line x1="361.41" y1="208.0" x2="361.41" y2="218.9" stroke="#ff1010" stroke-width="0.9" opacity="0.42"/>
<rect x="360.71" y="211.0" width="1.4" height="7.0" fill="#ff1010"/>
<line x1="363.57" y1="199.0" x2="363.57" y2="220.0" stroke="#ff1010" stroke-width="0.9" opacity="0.42"/>
<rect x="362.87" y="199.9" width="1.4" height="10.5" fill="#ff1010"/>
<line x1="365.73" y1="199.0" x2="365.73" y2="216.6" stroke="#10e010" stroke-width="0.9" opacity="0.42"/>
<rect x="365.03" y="199.9" width="1.4" height="9.8" fill="#10e010"/>
<line x1="367.89" y1="206.2" x2="367.89" y2="216.0" stroke="#10e010" stroke-width="0.9" opacity="0.42"/>
<rect x="367.19" y="209.7" width="1.4" height="4.2" fill="#10e010"/>
<line x1="370.05" y1="207.6" x2="370.05" y2="216.2" stroke="#10e010" stroke-width="0.9" opacity="0.42"/>
<rect x="369.35" y="212.5" width="1.4" height="2.8" fill="#10e010"/>
<line x1="372.21" y1="211.4" x2="372.21" y2="219.6" stroke="#10e010" stroke-width="0.9" opacity="0.42"/>
<rect x="371.51" y="214.6" width="1.4" height="4.1" fill="#10e010"/>
<line x1="374.37" y1="215.1" x2="374.37" y2="220.9" stroke="#10e010" stroke-width="0.9" opacity="0.42"/>
<rect x="373.67" y="216.0" width="1.4" height="4.0" fill="#10e010"/>
<line x1="376.53" y1="216.1" x2="376.53" y2="222.1" stroke="#ff1010" stroke-width="0.9" opacity="0.42"/>
<rect x="375.83" y="217.0" width="1.4" height="4.2" fill="#ff1010"/>
<line x1="378.69" y1="216.1" x2="378.69" y2="220.7" stroke="#10e010" stroke-width="0.9" opacity="0.42"/>
<rect x="377.99" y="217.0" width="1.4" height="2.8" fill="#10e010"/>
<line x1="380.85" y1="220.6" x2="380.85" y2="227.8" stroke="#10e010" stroke-width="0.9" opacity="0.42"/>
<rect x="380.15" y="221.5" width="1.4" height="4.9" fill="#10e010"/>
<rect x="382.36" y="222.2" width="1.3" height="1.4" fill="#10e010" opacity="0.38"/>
<line x1="385.17" y1="216.5" x2="385.17" y2="225.2" stroke="#ff1010" stroke-width="0.9" opacity="0.42"/>
<rect x="384.47" y="217.4" width="1.4" height="6.9" fill="#ff1010"/>
<line x1="387.33" y1="212.3" x2="387.33" y2="218.3" stroke="#ff1010" stroke-width="0.9" opacity="0.42"/>
<rect x="386.63" y="213.2" width="1.4" height="4.2" fill="#ff1010"/>
<line x1="389.49" y1="213.0" x2="389.49" y2="217.6" stroke="#10e010" stroke-width="0.9" opacity="0.42"/>
<rect x="388.79" y="213.9" width="1.4" height="2.8" fill="#10e010"/>
<line x1="391.65" y1="212.6" x2="391.65" y2="218.7" stroke="#ff1010" stroke-width="0.9" opacity="0.42"/>
<rect x="390.95" y="213.5" width="1.4" height="3.2" fill="#ff1010"/>
<line x1="393.81" y1="204.0" x2="393.81" y2="214.8" stroke="#ff1010" stroke-width="0.9" opacity="0.42"/>
<rect x="393.11" y="210.7" width="1.4" height="3.2" fill="#ff1010"/>
<line x1="395.97" y1="207.6" x2="395.97" y2="213.4" stroke="#10e010" stroke-width="0.9" opacity="0.42"/>
<rect x="395.27" y="211.0" width="1.4" height="1.5" fill="#10e010"/>
<line x1="398.13" y1="210.5" x2="398.13" y2="216.9" stroke="#10e010" stroke-width="0.9" opacity="0.42"/>
<rect x="397.43" y="211.4" width="1.4" height="4.6" fill="#10e010"/>
<line x1="400.30" y1="210.5" x2="400.30" y2="216.9" stroke="#ff1010" stroke-width="0.9" opacity="0.42"/>
<rect x="399.60" y="211.4" width="1.4" height="4.6" fill="#ff1010"/>
<line x1="402.46" y1="210.5" x2="402.46" y2="216.5" stroke="#10e010" stroke-width="0.9" opacity="0.42"/>
<rect x="401.76" y="211.4" width="1.4" height="4.2" fill="#10e010"/>
<line x1="404.62" y1="211.6" x2="404.62" y2="216.2" stroke="#ff1010" stroke-width="0.9" opacity="0.42"/>
<rect x="403.92" y="212.5" width="1.4" height="2.8" fill="#ff1010"/>
<line x1="406.78" y1="209.5" x2="406.78" y2="214.8" stroke="#ff1010" stroke-width="0.9" opacity="0.42"/>
<rect x="406.08" y="210.4" width="1.4" height="3.5" fill="#ff1010"/>
<line x1="408.94" y1="209.5" x2="408.94" y2="213.4" stroke="#10e010" stroke-width="0.9" opacity="0.42"/>
<rect x="408.24" y="210.4" width="1.4" height="2.1" fill="#10e010"/>
<line x1="411.10" y1="210.9" x2="411.10" y2="214.1" stroke="#10e010" stroke-width="0.9" opacity="0.42"/>
<rect x="410.40" y="211.8" width="1.4" height="1.4" fill="#10e010"/>
<line x1="413.26" y1="210.5" x2="413.26" y2="214.4" stroke="#ff1010" stroke-width="0.9" opacity="0.42"/>
<rect x="412.56" y="211.4" width="1.4" height="2.1" fill="#ff1010"/>
<line x1="415.42" y1="210.1" x2="415.42" y2="213.7" stroke="#ff1010" stroke-width="0.9" opacity="0.42"/>
<rect x="414.72" y="211.0" width="1.4" height="1.8" fill="#ff1010"/>
<line x1="417.58" y1="209.8" x2="417.58" y2="213.4" stroke="#ff1010" stroke-width="0.9" opacity="0.42"/>
<rect x="416.88" y="210.7" width="1.4" height="1.8" fill="#ff1010"/>
<line x1="419.74" y1="209.1" x2="419.74" y2="212.7" stroke="#ff1010" stroke-width="0.9" opacity="0.42"/>
<rect x="419.04" y="210.0" width="1.4" height="1.8" fill="#ff1010"/>
<line x1="421.90" y1="208.2" x2="421.90" y2="211.8" stroke="#ff1010" stroke-width="0.9" opacity="0.42"/>
<rect x="421.20" y="209.1" width="1.4" height="1.8" fill="#ff1010"/>
<line x1="424.06" y1="207.1" x2="424.06" y2="211.4" stroke="#ff1010" stroke-width="0.9" opacity="0.42"/>
<rect x="423.36" y="208.0" width="1.4" height="2.5" fill="#ff1010"/>
<line x1="426.22" y1="205.4" x2="426.22" y2="210.0" stroke="#ff1010" stroke-width="0.9" opacity="0.42"/>
<rect x="425.52" y="206.3" width="1.4" height="2.8" fill="#ff1010"/>
<rect x="427.73" y="205.3" width="1.3" height="4.7" fill="#ff1010" opacity="0.38"/>
<line x1="430.54" y1="202.5" x2="430.54" y2="212.3" stroke="#10e010" stroke-width="0.9" opacity="0.42"/>
<rect x="429.84" y="205.3" width="1.4" height="4.2" fill="#10e010"/>
<line x1="432.70" y1="207.9" x2="432.70" y2="213.7" stroke="#10e010" stroke-width="0.9" opacity="0.42"/>
<rect x="432.00" y="208.8" width="1.4" height="2.8" fill="#10e010"/>
<line x1="434.86" y1="208.6" x2="434.86" y2="214.4" stroke="#10e010" stroke-width="0.9" opacity="0.42"/>
<rect x="434.16" y="209.5" width="1.4" height="3.5" fill="#10e010"/>
<line x1="437.02" y1="206.7" x2="437.02" y2="213.9" stroke="#10e010" stroke-width="0.9" opacity="0.42"/>
<rect x="436.32" y="210.2" width="1.4" height="2.8" fill="#10e010"/>
<line x1="439.18" y1="208.6" x2="439.18" y2="214.6" stroke="#ff1010" stroke-width="0.9" opacity="0.42"/>
<rect x="438.48" y="209.5" width="1.4" height="4.2" fill="#ff1010"/>
<line x1="441.34" y1="207.4" x2="441.34" y2="213.9" stroke="#10e010" stroke-width="0.9" opacity="0.42"/>
<rect x="440.64" y="208.8" width="1.4" height="4.2" fill="#10e010"/>
<line x1="443.50" y1="201.0" x2="443.50" y2="214.2" stroke="#ff1010" stroke-width="0.9" opacity="0.42"/>
<rect x="442.80" y="203.5" width="1.4" height="9.8" fill="#ff1010"/>
<line x1="445.66" y1="202.6" x2="445.66" y2="208.3" stroke="#10e010" stroke-width="0.9" opacity="0.42"/>
<rect x="444.96" y="203.5" width="1.4" height="3.9" fill="#10e010"/>
<rect x="447.17" y="203.2" width="1.3" height="8.4" fill="#ff1010" opacity="0.38"/>
<rect x="449.33" y="203.9" width="1.3" height="4.1" fill="#ff1010" opacity="0.38"/>
<line x1="452.14" y1="203.9" x2="452.14" y2="210.4" stroke="#10e010" stroke-width="0.9" opacity="0.42"/>
<rect x="451.44" y="205.3" width="1.4" height="4.2" fill="#10e010"/>
<line x1="454.30" y1="207.9" x2="454.30" y2="214.4" stroke="#10e010" stroke-width="0.9" opacity="0.42"/>
<rect x="453.60" y="208.8" width="1.4" height="2.1" fill="#10e010"/>
<line x1="456.46" y1="210.7" x2="456.46" y2="214.6" stroke="#10e010" stroke-width="0.9" opacity="0.42"/>
<rect x="455.76" y="211.6" width="1.4" height="2.1" fill="#10e010"/>
<line x1="458.62" y1="208.6" x2="458.62" y2="213.9" stroke="#ff1010" stroke-width="0.9" opacity="0.42"/>
<rect x="457.92" y="209.5" width="1.4" height="3.5" fill="#ff1010"/>
<rect x="460.13" y="208.0" width="1.3" height="4.0" fill="#10e010" opacity="0.38"/>
<line x1="462.94" y1="207.0" x2="462.94" y2="211.4" stroke="#ff1010" stroke-width="0.9" opacity="0.42"/>
<rect x="462.24" y="208.0" width="1.4" height="2.5" fill="#ff1010"/>
<line x1="465.10" y1="208.6" x2="465.10" y2="211.4" stroke="#10e010" stroke-width="0.9" opacity="0.42"/>
<rect x="464.40" y="209.5" width="1.4" height="1.0" fill="#10e010"/>
<line x1="467.26" y1="208.6" x2="467.26" y2="212.8" stroke="#10e010" stroke-width="0.9" opacity="0.42"/>
<rect x="466.56" y="209.5" width="1.4" height="2.4" fill="#10e010"/>
<rect x="468.77" y="209.8" width="1.3" height="2.5" fill="#ff1010" opacity="0.38"/>
<line x1="471.59" y1="209.3" x2="471.59" y2="213.2" stroke="#10e010" stroke-width="0.9" opacity="0.42"/>
<rect x="470.89" y="210.2" width="1.4" height="2.1" fill="#10e010"/>
<line x1="473.75" y1="209.6" x2="473.75" y2="213.5" stroke="#10e010" stroke-width="0.9" opacity="0.42"/>
<rect x="473.05" y="210.5" width="1.4" height="2.1" fill="#10e010"/>
<line x1="475.91" y1="209.6" x2="475.91" y2="213.5" stroke="#ff1010" stroke-width="0.9" opacity="0.42"/>
<rect x="475.21" y="210.5" width="1.4" height="2.1" fill="#ff1010"/>
<line x1="478.07" y1="206.8" x2="478.07" y2="211.8" stroke="#ff1010" stroke-width="0.9" opacity="0.42"/>
<rect x="477.37" y="207.7" width="1.4" height="3.2" fill="#ff1010"/>
<line x1="480.23" y1="202.8" x2="480.23" y2="208.9" stroke="#ff1010" stroke-width="0.9" opacity="0.42"/>
<rect x="479.53" y="206.0" width="1.4" height="2.0" fill="#ff1010"/>
<line x1="482.39" y1="204.7" x2="482.39" y2="210.4" stroke="#10e010" stroke-width="0.9" opacity="0.42"/>
<rect x="481.69" y="205.6" width="1.4" height="3.9" fill="#10e010"/>
<line x1="484.55" y1="206.1" x2="484.55" y2="210.4" stroke="#ff1010" stroke-width="0.9" opacity="0.42"/>
<rect x="483.85" y="207.0" width="1.4" height="2.5" fill="#ff1010"/>
<line x1="486.71" y1="206.8" x2="486.71" y2="217.8" stroke="#10e010" stroke-width="0.9" opacity="0.42"/>
<rect x="486.01" y="207.7" width="1.4" height="7.3" fill="#10e010"/>
<line x1="488.87" y1="212.3" x2="488.87" y2="216.4" stroke="#ff1010" stroke-width="0.9" opacity="0.42"/>
<rect x="488.17" y="213.8" width="1.4" height="1.6" fill="#ff1010"/>
<line x1="491.03" y1="208.4" x2="491.03" y2="222.7" stroke="#10e010" stroke-width="0.9" opacity="0.42"/>
<rect x="490.33" y="213.0" width="1.4" height="7.0" fill="#10e010"/>
<line x1="493.19" y1="213.7" x2="493.19" y2="220.9" stroke="#ff1010" stroke-width="0.9" opacity="0.42"/>
<rect x="492.49" y="217.8" width="1.4" height="2.2" fill="#ff1010"/>
<line x1="495.35" y1="216.9" x2="495.35" y2="222.2" stroke="#10e010" stroke-width="0.9" opacity="0.42"/>
<rect x="494.65" y="217.8" width="1.4" height="3.5" fill="#10e010"/>
<line x1="497.51" y1="213.7" x2="497.51" y2="222.2" stroke="#ff1010" stroke-width="0.9" opacity="0.42"/>
<rect x="496.81" y="215.0" width="1.4" height="6.3" fill="#ff1010"/>
<line x1="499.67" y1="199.0" x2="499.67" y2="217.0" stroke="#ff1010" stroke-width="0.9" opacity="0.42"/>
<rect x="498.97" y="210.5" width="1.4" height="5.6" fill="#ff1010"/>
<line x1="501.83" y1="197.4" x2="501.83" y2="211.8" stroke="#ff1010" stroke-width="0.9" opacity="0.42"/>
<rect x="501.13" y="198.3" width="1.4" height="12.6" fill="#ff1010"/>
<line x1="503.99" y1="194.3" x2="503.99" y2="203.5" stroke="#ff1010" stroke-width="0.9" opacity="0.42"/>
<rect x="503.29" y="195.2" width="1.4" height="3.8" fill="#ff1010"/>
<line x1="506.15" y1="193.9" x2="506.15" y2="199.7" stroke="#10e010" stroke-width="0.9" opacity="0.42"/>
<rect x="505.45" y="194.8" width="1.4" height="2.4" fill="#10e010"/>
<line x1="508.31" y1="183.0" x2="508.31" y2="202.8" stroke="#ff1010" stroke-width="0.9" opacity="0.42"/>
<rect x="507.61" y="183.9" width="1.4" height="12.7" fill="#ff1010"/>
<line x1="510.47" y1="179.0" x2="510.47" y2="188.0" stroke="#ff1010" stroke-width="0.9" opacity="0.42"/>
<rect x="509.77" y="183.2" width="1.4" height="1.7" fill="#ff1010"/>
<line x1="512.63" y1="182.3" x2="512.63" y2="193.6" stroke="#10e010" stroke-width="0.9" opacity="0.42"/>
<rect x="511.93" y="183.2" width="1.4" height="7.6" fill="#10e010"/>
<line x1="514.79" y1="183.2" x2="514.79" y2="192.4" stroke="#ff1010" stroke-width="0.9" opacity="0.42"/>
<rect x="514.09" y="188.4" width="1.4" height="3.1" fill="#ff1010"/>
<rect x="516.30" y="185.3" width="1.3" height="10.4" fill="#10e010" opacity="0.38"/>
<line x1="519.11" y1="184.6" x2="519.11" y2="192.4" stroke="#10e010" stroke-width="0.9" opacity="0.42"/>
<rect x="518.41" y="188.0" width="1.4" height="3.5" fill="#10e010"/>
<line x1="521.27" y1="186.5" x2="521.27" y2="194.3" stroke="#ff1010" stroke-width="0.9" opacity="0.42"/>
<rect x="520.57" y="187.4" width="1.4" height="4.1" fill="#ff1010"/>
<line x1="523.43" y1="177.2" x2="523.43" y2="194.3" stroke="#ff1010" stroke-width="0.9" opacity="0.42"/>
<rect x="522.73" y="180.4" width="1.4" height="7.6" fill="#ff1010"/>
<line x1="525.59" y1="177.4" x2="525.59" y2="185.3" stroke="#ff1010" stroke-width="0.9" opacity="0.42"/>
<rect x="524.89" y="178.3" width="1.4" height="2.7" fill="#ff1010"/>
<line x1="527.75" y1="176.3" x2="527.75" y2="182.5" stroke="#ff1010" stroke-width="0.9" opacity="0.42"/>
<rect x="527.05" y="177.2" width="1.4" height="1.8" fill="#ff1010"/>
<line x1="529.91" y1="176.3" x2="529.91" y2="182.5" stroke="#10e010" stroke-width="0.9" opacity="0.42"/>
<rect x="529.21" y="177.2" width="1.4" height="2.5" fill="#10e010"/>
<line x1="532.07" y1="172.8" x2="532.07" y2="181.8" stroke="#ff1010" stroke-width="0.9" opacity="0.42"/>
<rect x="531.37" y="173.7" width="1.4" height="5.6" fill="#ff1010"/>
<line x1="534.23" y1="170.2" x2="534.23" y2="176.5" stroke="#ff1010" stroke-width="0.9" opacity="0.42"/>
<rect x="533.53" y="173.0" width="1.4" height="1.8" fill="#ff1010"/>
<line x1="536.39" y1="172.1" x2="536.39" y2="180.6" stroke="#10e010" stroke-width="0.9" opacity="0.42"/>
<rect x="535.69" y="173.0" width="1.4" height="6.7" fill="#10e010"/>
<line x1="538.55" y1="178.4" x2="538.55" y2="194.3" stroke="#10e010" stroke-width="0.9" opacity="0.42"/>
<rect x="537.85" y="179.3" width="1.4" height="9.4" fill="#10e010"/>
<line x1="540.71" y1="188.1" x2="540.71" y2="197.0" stroke="#10e010" stroke-width="0.9" opacity="0.42"/>
<rect x="540.01" y="189.0" width="1.4" height="6.0" fill="#10e010"/>
<line x1="542.87" y1="189.6" x2="542.87" y2="197.8" stroke="#ff1010" stroke-width="0.9" opacity="0.42"/>
<rect x="542.17" y="190.5" width="1.4" height="4.5" fill="#ff1010"/>
<line x1="545.04" y1="186.6" x2="545.04" y2="193.6" stroke="#ff1010" stroke-width="0.9" opacity="0.42"/>
<rect x="544.34" y="189.0" width="1.4" height="2.5" fill="#ff1010"/>
<line x1="547.20" y1="184.5" x2="547.20" y2="197.8" stroke="#10e010" stroke-width="0.9" opacity="0.42"/>
<rect x="546.50" y="189.0" width="1.4" height="7.4" fill="#10e010"/>
<line x1="549.36" y1="193.8" x2="549.36" y2="198.7" stroke="#ff1010" stroke-width="0.9" opacity="0.42"/>
<rect x="548.66" y="194.7" width="1.4" height="3.1" fill="#ff1010"/>
<line x1="551.52" y1="192.7" x2="551.52" y2="198.7" stroke="#10e010" stroke-width="0.9" opacity="0.42"/>
<rect x="550.82" y="193.6" width="1.4" height="4.2" fill="#10e010"/>
<line x1="553.68" y1="189.9" x2="553.68" y2="198.7" stroke="#ff1010" stroke-width="0.9" opacity="0.42"/>
<rect x="552.98" y="190.8" width="1.4" height="7.0" fill="#ff1010"/>
<line x1="555.84" y1="186.5" x2="555.84" y2="197.0" stroke="#ff1010" stroke-width="0.9" opacity="0.42"/>
<rect x="555.14" y="187.4" width="1.4" height="3.8" fill="#ff1010"/>
<line x1="558.00" y1="172.6" x2="558.00" y2="188.6" stroke="#ff1010" stroke-width="0.9" opacity="0.42"/>
<rect x="557.30" y="176.5" width="1.4" height="11.2" fill="#ff1010"/>
<line x1="560.16" y1="175.5" x2="560.16" y2="187.2" stroke="#10e010" stroke-width="0.9" opacity="0.42"/>
<rect x="559.46" y="176.4" width="1.4" height="8.0" fill="#10e010"/>
<line x1="562.32" y1="178.2" x2="562.32" y2="186.0" stroke="#ff1010" stroke-width="0.9" opacity="0.42"/>
<rect x="561.62" y="183.7" width="1.4" height="1.4" fill="#ff1010"/>
<line x1="564.48" y1="182.3" x2="564.48" y2="187.2" stroke="#10e010" stroke-width="0.9" opacity="0.42"/>
<rect x="563.78" y="183.7" width="1.4" height="2.8" fill="#10e010"/>
<line x1="566.64" y1="178.9" x2="566.64" y2="192.1" stroke="#ff1010" stroke-width="0.9" opacity="0.42"/>
<rect x="565.94" y="181.7" width="1.4" height="5.5" fill="#ff1010"/>
<line x1="568.80" y1="170.5" x2="568.80" y2="183.3" stroke="#ff1010" stroke-width="0.9" opacity="0.42"/>
<rect x="568.10" y="180.3" width="1.4" height="2.1" fill="#ff1010"/>
<line x1="570.96" y1="178.2" x2="570.96" y2="183.7" stroke="#ff1010" stroke-width="0.9" opacity="0.42"/>
<rect x="570.26" y="179.9" width="1.4" height="1.8" fill="#ff1010"/>
<line x1="573.12" y1="178.7" x2="573.12" y2="184.4" stroke="#ff1010" stroke-width="0.9" opacity="0.42"/>
<rect x="572.42" y="179.6" width="1.4" height="1.4" fill="#ff1010"/>
<line x1="575.28" y1="170.6" x2="575.28" y2="180.5" stroke="#ff1010" stroke-width="0.9" opacity="0.42"/>
<rect x="574.58" y="171.5" width="1.4" height="8.1" fill="#ff1010"/>
<line x1="577.44" y1="170.6" x2="577.44" y2="177.0" stroke="#10e010" stroke-width="0.9" opacity="0.42"/>
<rect x="576.74" y="171.5" width="1.4" height="4.6" fill="#10e010"/>
<line x1="579.60" y1="174.8" x2="579.60" y2="184.3" stroke="#10e010" stroke-width="0.9" opacity="0.42"/>
<rect x="578.90" y="175.7" width="1.4" height="7.7" fill="#10e010"/>
<line x1="581.76" y1="176.0" x2="581.76" y2="184.3" stroke="#ff1010" stroke-width="0.9" opacity="0.42"/>
<rect x="581.06" y="180.6" width="1.4" height="2.8" fill="#ff1010"/>
<rect x="583.27" y="176.8" width="1.3" height="2.8" fill="#ff1010" opacity="0.38"/>
<line x1="586.08" y1="92.0" x2="586.08" y2="180.5" stroke="#ff1010" stroke-width="0.9" opacity="0.42"/>
<rect x="585.38" y="120.0" width="1.4" height="59.6" fill="#ff1010"/>
<rect x="587.59" y="98.0" width="1.3" height="26.0" fill="#ff1010" opacity="0.38"/>
<line x1="590.40" y1="46.8" x2="590.40" y2="105.6" stroke="#ff1010" stroke-width="0.9" opacity="0.42"/>
<rect x="589.70" y="54.4" width="1.4" height="50.3" fill="#ff1010"/>
<line x1="592.56" y1="32.8" x2="592.56" y2="64.0" stroke="#10e010" stroke-width="0.9" opacity="0.85"/>
<rect x="591.86" y="54.4" width="1.4" height="8.4" fill="#10e010"/>
<line x1="594.72" y1="61.1" x2="594.72" y2="101.0" stroke="#10e010" stroke-width="0.9" opacity="0.42"/>
<rect x="594.02" y="62.0" width="1.4" height="9.0" fill="#10e010"/>
<line x1="596.88" y1="47.3" x2="596.88" y2="78.0" stroke="#ff1010" stroke-width="0.9" opacity="0.42"/>
<rect x="596.18" y="48.2" width="1.4" height="22.8" fill="#ff1010"/>
<line x1="599.04" y1="47.3" x2="599.04" y2="82.0" stroke="#10e010" stroke-width="0.9" opacity="0.42"/>
<rect x="598.34" y="48.2" width="1.4" height="32.9" fill="#10e010"/>
<line x1="601.20" y1="72.4" x2="601.20" y2="91.9" stroke="#10e010" stroke-width="0.9" opacity="0.42"/>
<rect x="600.50" y="80.8" width="1.4" height="3.5" fill="#10e010"/>
<line x1="603.36" y1="83.4" x2="603.36" y2="91.9" stroke="#10e010" stroke-width="0.9" opacity="0.42"/>
<rect x="602.66" y="84.3" width="1.4" height="4.1" fill="#10e010"/>
<line x1="605.52" y1="87.2" x2="605.52" y2="98.4" stroke="#10e010" stroke-width="0.9" opacity="0.42"/>
<rect x="604.82" y="88.1" width="1.4" height="9.4" fill="#10e010"/>
<line x1="607.68" y1="91.0" x2="607.68" y2="98.4" stroke="#ff1010" stroke-width="0.9" opacity="0.42"/>
<rect x="606.98" y="91.9" width="1.4" height="5.6" fill="#ff1010"/>
<line x1="609.84" y1="88.8" x2="609.84" y2="98.4" stroke="#10e010" stroke-width="0.9" opacity="0.42"/>
<rect x="609.14" y="91.9" width="1.4" height="5.6" fill="#10e010"/>
<line x1="612.00" y1="93.1" x2="612.00" y2="98.4" stroke="#ff1010" stroke-width="0.9" opacity="0.42"/>
<rect x="611.30" y="94.0" width="1.4" height="3.5" fill="#ff1010"/>
<line x1="614.16" y1="93.6" x2="614.16" y2="96.4" stroke="#ff1010" stroke-width="0.9" opacity="0.42"/>
<rect x="613.46" y="94.5" width="1.4" height="1.0" fill="#ff1010"/>
<line x1="616.33" y1="92.8" x2="616.33" y2="95.9" stroke="#10e010" stroke-width="0.9" opacity="0.42"/>
<rect x="615.63" y="93.7" width="1.4" height="1.3" fill="#10e010"/>
<line x1="618.49" y1="92.4" x2="618.49" y2="95.6" stroke="#ff1010" stroke-width="0.9" opacity="0.42"/>
<rect x="617.79" y="93.3" width="1.4" height="1.4" fill="#ff1010"/>
<line x1="620.65" y1="87.2" x2="620.65" y2="94.0" stroke="#ff1010" stroke-width="0.9" opacity="0.42"/>
<rect x="619.95" y="88.1" width="1.4" height="3.8" fill="#ff1010"/>
<rect x="622.16" y="85.3" width="1.3" height="3.1" fill="#ff1010" opacity="0.38"/>
<line x1="624.97" y1="85.7" x2="624.97" y2="92.8" stroke="#10e010" stroke-width="0.9" opacity="0.42"/>
<rect x="624.27" y="87.7" width="1.4" height="4.2" fill="#10e010"/>
<line x1="627.13" y1="91.0" x2="627.13" y2="95.3" stroke="#10e010" stroke-width="0.9" opacity="0.42"/>
<rect x="626.43" y="91.9" width="1.4" height="2.5" fill="#10e010"/>
<line x1="629.29" y1="84.8" x2="629.29" y2="95.3" stroke="#ff1010" stroke-width="0.9" opacity="0.42"/>
<rect x="628.59" y="85.7" width="1.4" height="8.7" fill="#ff1010"/>
<line x1="631.45" y1="80.4" x2="631.45" y2="86.6" stroke="#ff1010" stroke-width="0.9" opacity="0.42"/>
<rect x="630.75" y="83.2" width="1.4" height="2.5" fill="#ff1010"/>
<line x1="633.61" y1="75.0" x2="633.61" y2="84.5" stroke="#ff1010" stroke-width="0.9" opacity="0.42"/>
<rect x="632.91" y="75.9" width="1.4" height="7.7" fill="#ff1010"/>
<line x1="635.77" y1="75.0" x2="635.77" y2="80.3" stroke="#10e010" stroke-width="0.9" opacity="0.42"/>
<rect x="635.07" y="75.9" width="1.4" height="3.5" fill="#10e010"/>
<line x1="637.93" y1="70.1" x2="637.93" y2="80.5" stroke="#ff1010" stroke-width="0.9" opacity="0.42"/>
<rect x="637.23" y="71.0" width="1.4" height="8.6" fill="#ff1010"/>
<line x1="640.09" y1="70.1" x2="640.09" y2="77.3" stroke="#10e010" stroke-width="0.9" opacity="0.42"/>
<rect x="639.39" y="71.0" width="1.4" height="3.2" fill="#10e010"/>
<line x1="642.25" y1="69.1" x2="642.25" y2="74.2" stroke="#ff1010" stroke-width="0.9" opacity="0.42"/>
<rect x="641.55" y="70.0" width="1.4" height="3.3" fill="#ff1010"/>
<line x1="644.41" y1="59.2" x2="644.41" y2="74.2" stroke="#ff1010" stroke-width="0.9" opacity="0.42"/>
<rect x="643.71" y="60.1" width="1.4" height="13.2" fill="#ff1010"/>
<line x1="646.57" y1="57.0" x2="646.57" y2="63.2" stroke="#10e010" stroke-width="0.9" opacity="0.42"/>
<rect x="645.87" y="57.9" width="1.4" height="4.4" fill="#10e010"/>
<line x1="648.73" y1="60.3" x2="648.73" y2="66.5" stroke="#10e010" stroke-width="0.9" opacity="0.42"/>
<rect x="648.03" y="61.2" width="1.4" height="4.4" fill="#10e010"/>
<line x1="650.89" y1="61.4" x2="650.89" y2="66.0" stroke="#ff1010" stroke-width="0.9" opacity="0.42"/>
<rect x="650.19" y="62.3" width="1.4" height="2.8" fill="#ff1010"/>
<line x1="653.05" y1="53.7" x2="653.05" y2="63.2" stroke="#ff1010" stroke-width="0.9" opacity="0.42"/>
<rect x="652.35" y="54.6" width="1.4" height="7.7" fill="#ff1010"/>
<line x1="655.21" y1="52.6" x2="655.21" y2="61.2" stroke="#ff1010" stroke-width="0.9" opacity="0.42"/>
<rect x="654.51" y="53.5" width="1.4" height="4.4" fill="#ff1010"/>
<line x1="657.37" y1="48.2" x2="657.37" y2="54.4" stroke="#ff1010" stroke-width="0.9" opacity="0.42"/>
<rect x="656.67" y="49.1" width="1.4" height="4.4" fill="#ff1010"/>
<line x1="659.53" y1="45.0" x2="659.53" y2="51.1" stroke="#ff1010" stroke-width="0.9" opacity="0.42"/>
<rect x="658.83" y="45.9" width="1.4" height="4.3" fill="#ff1010"/>
<line x1="661.69" y1="42.2" x2="661.69" y2="47.9" stroke="#ff1010" stroke-width="0.9" opacity="0.42"/>
<rect x="660.99" y="43.1" width="1.4" height="3.9" fill="#ff1010"/>
<line x1="663.85" y1="36.5" x2="663.85" y2="46.8" stroke="#ff1010" stroke-width="0.9" opacity="0.42"/>
<rect x="663.15" y="39.3" width="1.4" height="6.6" fill="#ff1010"/>
<line x1="666.01" y1="31.0" x2="666.01" y2="43.5" stroke="#10e010" stroke-width="0.9" opacity="0.42"/>
<rect x="665.31" y="39.3" width="1.4" height="3.3" fill="#10e010"/>
<line x1="668.17" y1="38.2" x2="668.17" y2="43.1" stroke="#ff1010" stroke-width="0.9" opacity="0.42"/>
<rect x="667.47" y="40.4" width="1.4" height="2.2" fill="#ff1010"/>
<g fill="none" stroke="#6464f6" stroke-width="1.02" stroke-linejoin="round" opacity="0.92">
<polyline points="2.8,296.3 7.0,301.9 11.2,307.5 14.7,311.0 18.2,316.5 21.7,311.7 25.8,309.3 30.0,311.7 35.0,309.6 39.0,309.3 43.3,311.7 47.5,310.3 51.0,316.5 55.9,318.0 59.4,321.4 62.9,328.4 65.4,331.2 67.8,327.0 72.6,324.2 76.1,319.3 78.9,309.6 82.4,311.0 86.6,313.7 89.4,313.0 92.2,320.0 95.0,324.2 96.0,324.9 98.1,327.0 100.2,324.2 102.3,318.0 103.7,311.0 105.1,302.6 106.5,288.5 107.5,280.2 108.6,274.6 111.4,271.4 113.5,266.9 115.6,263.0 117.0,263.4 119.0,266.5 121.5,270.4 123.9,269.0 126.0,270.4 127.8,273.2 129.5,269.7 130.9,264.8 131.8,260.0 132.1,257.9 134.2,248.2 136.6,246.5 139.1,251.0 141.9,253.0 145.4,250.3 147.5,251.0 150.3,256.5 153.1,255.8 155.9,260.0 158.7,263.5 161.5,261.4 165.0,258.0 168.5,259.6 171.2,259.3 174.0,261.0 178.2,260.0 182.4,259.6 186.6,262.8 190.8,263.5 195.0,266.2 197.8,264.6 200.6,265.3 203.4,266.4 206.2,267.4 209.0,266.9 212.5,266.9 216.0,267.1 218.7,268.1 221.5,268.6 225.0,268.3 227.8,267.8 229.6,266.9 231.3,267.8 234.1,270.2 236.9,273.0 239.0,274.8 242.5,274.4 245.3,274.2 248.1,272.7 250.2,271.6 254.2,271.7 258.4,270.3 260.5,268.5 262.6,267.4 264.7,268.7 267.5,268.7 269.6,271.0 271.7,274.5 273.7,277.3 275.8,279.0 277.2,279.0 280.0,276.6 283.5,274.5 285.6,275.3 288.1,274.5 290.5,273.1 291.9,270.3 293.0,266.1 294.1,257.9 295.5,250.3 296.9,244.0 298.3,239.1 300.4,235.9 303.2,234.1 305.3,234.5 307.5,231.5 310.0,228.1 312.5,229.4 314.0,229.9 315.5,222.9 317.0,213.9 318.5,205.0 320.0,195.0 321.5,185.0 324.0,168.2 326.8,161.9 331.0,158.0 333.8,164.0 336.6,173.7 338.7,179.3 341.5,186.3 342.2,188.8 345.7,187.0 348.5,183.5 352.6,184.9 356.1,186.0 358.9,187.0 361.0,189.8 363.8,191.9 368.0,191.2 373.6,190.2 376.4,194.0 376.8,195.0 380.3,196.0 383.7,195.7 385.5,197.1 386.9,203.4 388.6,206.9 390.7,209.0 392.5,209.5 394.2,207.6 396.3,204.8 399.1,203.4 402.3,202.5 404.7,204.8 406.8,207.6 410.3,207.4 414.5,207.4 417.3,208.1 420.0,208.3 422.2,208.2 425.0,207.0 427.8,205.3 429.9,203.5 432.0,203.0 434.8,203.5 439.0,203.5 442.4,203.2 444.5,201.4 447.3,200.4 451.5,199.7 457.1,199.8 462.7,199.8 465.5,200.7 468.3,202.3 471.1,203.9 473.2,206.3 475.3,207.7 476.8,208.2 479.6,207.0 482.4,204.9 485.9,203.9 490.8,202.3 494.3,199.3 497.7,197.2 499.8,198.3 501.6,198.3 502.8,196.5 504.2,193.6 506.3,188.0 508.4,181.8 510.5,173.4 512.6,165.0 515.8,161.2 518.6,163.0 518.9,165.0 521.0,169.9 523.4,175.3 525.8,173.4 528.6,171.3 531.4,169.5 533.5,167.1 534.9,165.0 536.8,163.0 540.3,162.0 544.5,161.2 549.4,159.3 552.7,162.1 554.8,165.6 556.5,170.5 557.9,175.0 560.4,172.9 564.6,171.2 568.7,168.7 572.9,168.7 575.4,170.5 577.1,168.0 579.6,167.0 582.0,168.2 585.5,168.5 586.3,166.0 587.4,150.0 588.0,130.0 588.7,110.0 589.6,90.0 590.6,70.0 591.8,50.0 592.4,33.0 593.3,18.0 594.5,2.8 596.5,-25.0 600.5,-35.0 604.0,-25.0 606.6,2.8 607.7,14.0 609.8,25.1 612.4,30.0 614.1,35.6 616.2,40.5 618.3,45.0 619.0,51.0 619.4,57.9 619.8,65.0 620.1,71.0 620.8,75.9 622.5,80.1 625.3,82.9 628.1,84.3 629.8,84.6 631.6,81.5 633.7,76.6 636.0,71.1 639.3,64.5 642.6,60.7 645.3,53.5 647.5,47.0 649.7,45.9 652.4,47.8 655.2,45.3 657.9,40.4 661.2,35.4 664.5,31.0 667.8,27.2 670.0,25.0"/>
<polyline points="2.8,334.7 8.4,330.5 14.0,329.8 18.2,331.9 23.7,329.8 28.6,326.6 33.5,326.6 40.5,327.0 44.7,330.5 50.3,335.4 55.9,338.2 61.5,340.6 65.7,340.3 69.8,338.9 74.0,341.0 78.2,344.5 82.4,347.3 85.2,350.6 88.7,357.6 92.2,361.8 97.8,364.6 102.0,361.8 105.0,357.4 106.8,352.0 109.8,340.9 113.5,331.9 116.3,325.6 118.4,320.0 120.4,312.4 123.2,305.4 125.3,301.9 128.1,298.7 130.2,296.9 133.0,291.3 135.8,286.4 138.6,282.3 141.4,279.8 144.9,278.1 147.7,275.6 150.5,274.4 153.3,274.6 156.0,275.6 158.0,278.2 161.5,275.4 165.7,274.0 169.8,275.4 174.0,274.7 178.2,273.3 183.8,274.0 188.0,273.6 192.2,272.6 195.0,272.7 197.8,274.1 200.6,274.8 205.5,274.8 212.5,274.8 218.0,274.6 222.9,274.9 226.4,275.5 229.9,276.7 234.1,277.9 238.3,278.6 243.9,278.6 248.1,277.9 253.5,278.0 258.4,278.5 262.6,279.7 267.5,281.5 272.4,283.6 276.5,284.4 280.0,286.0 283.5,286.9 287.7,287.0 291.9,286.4 294.7,284.3 297.5,281.5 300.3,278.0 303.1,273.1 305.9,268.2 307.4,264.9 310.1,259.3 312.9,254.4 315.7,249.6 318.5,244.7 320.6,240.5 322.7,235.6 324.5,231.0 326.0,226.9 329.0,219.9 331.9,212.9 334.9,206.0 337.9,201.5 339.9,198.5 342.1,197.0 344.9,198.0 349.9,200.0 354.9,202.0 359.9,203.8 363.5,205.8 367.0,206.2 370.5,206.5 374.0,209.0 377.5,211.8 381.0,213.9 384.4,215.8 387.9,218.0 391.4,218.7 394.9,217.7 399.1,216.3 403.3,215.3 407.5,213.5 411.7,212.8 415.9,212.5 418.0,212.3 422.2,211.9 426.4,210.9 430.6,210.0 436.2,209.3 441.7,209.3 447.3,209.1 452.9,209.1 458.5,209.3 464.1,209.1 468.3,209.8 472.5,210.5 476.0,210.6 481.0,210.5 486.6,210.3 491.5,210.5 495.0,211.9 498.4,213.1 501.9,213.5 504.7,212.6 508.9,209.8 511.7,206.0 514.5,201.8 516.1,199.9 518.2,196.4 521.0,192.9 523.7,189.4 526.5,186.7 530.0,184.6 533.5,182.8 537.0,181.4 540.5,181.1 544.7,181.4 547.5,182.6 550.4,185.3 553.2,188.0 556.2,190.2 559.7,191.1 563.2,190.0 567.3,188.6 570.8,186.5 574.3,184.1 577.8,181.3 580.6,180.4 584.1,179.9 586.6,178.5 587.6,174.0 589.0,168.4 590.4,163.5 591.4,160.0 592.7,154.0 594.4,142.0 597.9,121.7 601.4,103.5 603.7,98.9 604.7,91.9 606.1,85.0 607.8,80.1 609.9,77.6 611.7,77.6 613.4,80.1 616.2,84.3 619.0,88.4 621.1,91.6 623.9,92.5 627.4,92.6 630.9,92.3 633.7,90.5 637.2,87.7 640.0,85.0 642.0,83.6 645.9,79.9 650.2,73.3 655.7,66.7 661.2,60.1 665.6,54.1 670.0,50.2"/>
<polyline points="2.8,375.0 5.6,366.0 8.4,358.5 11.9,351.4 18.2,347.3 22.4,349.4 26.5,347.3 30.0,340.3 33.5,343.0 37.7,344.5 41.9,344.5 45.4,350.3 48.2,354.5 53.0,355.0 55.9,356.4 56.0,357.5 58.8,357.8 60.9,354.3 63.7,351.5 65.8,351.9 67.5,353.6 70.7,352.6 72.8,355.7 74.5,359.2 76.1,366.0 78.2,377.8 81.0,381.3 83.8,383.4 85.9,386.9 87.3,392.3 88.3,400.6 89.6,403.6 92.0,403.2 94.1,401.7 95.6,401.1 97.7,401.1 99.8,400.4 101.4,401.7 102.4,403.2 104.0,405.0 109.0,405.0 111.3,403.5 112.0,401.7 113.3,399.0 114.4,396.1 115.8,390.3 117.2,380.3 118.4,373.1 119.7,364.5 120.8,355.9 122.3,347.2 124.4,338.6 126.0,331.9 127.1,327.0 128.5,324.2 131.6,326.3 134.4,329.3 136.5,323.5 137.9,318.0 139.0,313.1 140.7,309.6 143.5,305.4 146.3,304.0 148.0,301.2 149.1,292.0 150.1,291.3 151.9,292.7 154.0,293.1 156.0,292.4 157.3,291.5 161.5,291.4 165.7,290.8 169.8,291.4 172.6,290.4 176.8,287.5 180.3,285.4 183.8,285.2 188.0,283.8 190.8,281.7 193.6,278.2 195.0,279.0 197.1,282.1 199.5,283.3 202.0,282.4 205.5,282.8 208.3,283.1 211.1,282.4 216.0,282.1 218.7,281.0 220.8,280.5 222.9,281.4 225.7,282.4 228.5,283.5 229.9,284.9 232.7,285.4 235.5,284.9 238.3,283.7 242.5,284.0 246.0,284.0 248.1,285.1 250.2,284.8 252.8,283.9 255.6,284.4 257.7,286.4 259.8,288.4 261.9,291.2 264.0,292.6 266.8,294.4 268.5,295.1 270.9,293.3 273.7,291.6 276.5,290.2 277.9,291.9 280.0,295.4 282.1,298.2 286.5,299.6 289.5,300.2 291.7,302.2 294.0,310.4 296.2,316.4 298.9,319.1 301.4,314.9 304.4,307.4 308.2,296.9 311.2,284.9 313.9,277.2 316.4,282.7 318.7,287.9 320.9,291.7 323.2,292.7 325.4,290.9 327.6,281.9 329.9,271.5 332.1,264.9 333.2,257.9 333.9,251.0 334.9,244.0 336.0,235.5 337.9,224.9 339.9,214.9 341.4,208.0 342.7,206.2 344.4,209.0 346.9,213.9 348.9,216.7 352.9,217.4 356.9,217.9 359.9,219.0 363.5,220.5 369.1,221.5 371.2,224.3 374.0,227.1 376.8,228.2 379.6,229.9 382.7,234.1 385.1,236.6 386.6,232.0 387.9,229.6 391.4,227.8 394.9,229.6 399.1,229.9 402.6,227.8 404.7,224.3 406.4,220.8 407.5,219.4 411.0,218.0 415.2,217.2 418.0,216.8 422.2,215.7 426.4,215.0 429.9,216.1 434.1,215.4 439.0,215.4 442.4,216.4 445.9,218.2 449.4,218.2 454.3,218.5 458.5,218.9 461.3,217.8 465.5,216.4 468.3,215.4 472.5,214.7 478.0,214.4 482.0,214.4 485.9,215.4 488.0,217.5 490.8,219.9 492.9,222.7 495.0,224.1 496.4,226.2 498.0,228.5 501.6,228.5 504.0,232.1 507.0,236.9 510.0,242.3 512.3,245.1 514.7,241.7 517.1,234.5 518.7,226.9 520.1,220.6 521.5,213.7 522.2,209.5 523.2,205.3 525.7,203.2 528.5,201.1 530.6,199.3 534.5,201.6 538.7,198.4 542.3,200.4 545.9,203.4 548.3,208.2 550.7,211.2 553.7,213.9 556.0,210.6 557.8,206.4 561.4,208.2 565.0,207.6 568.6,207.6 572.2,203.4 574.6,198.6 576.6,195.2 578.5,194.9 581.3,192.8 584.1,191.8 586.2,191.4 586.9,194.9 588.0,215.0 590.0,241.0 592.3,275.0 594.3,286.4 598.9,279.0 600.9,265.0 603.0,241.0 605.0,215.0 605.8,185.9 606.4,172.0 607.2,158.0 608.2,144.0 609.8,130.0 613.3,126.6 616.1,127.3 618.6,128.0 619.6,117.5 621.0,106.3 623.8,102.8 628.7,101.0 632.9,102.4 635.7,106.3 639.8,106.0 643.3,105.0 646.1,108.0 648.9,102.8 651.0,95.8 653.8,91.0 658.0,87.5 662.2,84.7 666.4,78.4 669.9,76.3"/>
</g>
<polygon points="2.8,360.9 89.6,362.4 89.6,363.5 94.2,360.8 89.6,358.1 89.6,359.2 2.8,359.7" fill="#ffb31a"/>
<polygon points="129.5,291.7 268.4,290.1 268.5,291.1 273.2,288.3 268.4,285.7 268.4,286.7 129.5,290.3" fill="#ffb31a"/>
<polygon points="343.4,223.2 482.1,216.1 482.2,217.2 486.9,214.2 481.9,211.8 481.9,212.9 343.4,222.0" fill="#ffb31a"/>
<polygon points="96.7,374.7 738.2,132.4 738.9,134.2 743.5,128.9 736.5,128.0 737.2,129.8 96.5,373.9" fill="#ff0000"/>
</g>
<text class="note" y="15.2"><tspan x="476.0" font-size="10.6" textLength="22.3" lengthAdjust="spacingAndGlyphs">阻力</tspan><tspan x="502.8" font-size="11.6" textLength="33.3" lengthAdjust="spacingAndGlyphs">0.6780</tspan><tspan x="536.6" font-size="10.6" textLength="12.2" lengthAdjust="spacingAndGlyphs">至</tspan><tspan x="549.3" font-size="11.6" textLength="33.9" lengthAdjust="spacingAndGlyphs">0.6804</tspan></text>
<text class="note" y="165.1"><tspan x="689.4" font-size="10.6" textLength="22.3" lengthAdjust="spacingAndGlyphs">支撐</tspan><tspan x="716.0" font-size="11.6" textLength="33.0" lengthAdjust="spacingAndGlyphs">1.0813</tspan><tspan x="749.5" font-size="10.6" textLength="12.2" lengthAdjust="spacingAndGlyphs">至</tspan><tspan x="762.2" font-size="11.6" textLength="33.6" lengthAdjust="spacingAndGlyphs">1.0837</tspan></text>
<text class="note" y="401.3"><tspan x="3.9" font-size="12.6" textLength="27.3" lengthAdjust="spacingAndGlyphs">2023</tspan><tspan x="30.6" font-size="11.6" textLength="12.0" lengthAdjust="spacingAndGlyphs">年</tspan><tspan x="40.9" font-size="12.6" textLength="6.8" lengthAdjust="spacingAndGlyphs">3</tspan><tspan x="47.0" font-size="11.6" textLength="12.0" lengthAdjust="spacingAndGlyphs">月</tspan><tspan x="57.9" font-size="12.6" textLength="13.9" lengthAdjust="spacingAndGlyphs">23</tspan><tspan x="71.3" font-size="11.6" textLength="12.2" lengthAdjust="spacingAndGlyphs">日</tspan><tspan x="86.6" font-size="11.6" textLength="23.6" lengthAdjust="spacingAndGlyphs">歐美</tspan><tspan x="109.9" font-size="12.6" textLength="11.8" lengthAdjust="spacingAndGlyphs">15</tspan><tspan x="121.2" font-size="11.6" textLength="23.8" lengthAdjust="spacingAndGlyphs">分鐘</tspan><tspan x="144.8" font-size="12.6">K</tspan><tspan x="151.2" font-size="11.6" textLength="12.2" lengthAdjust="spacingAndGlyphs">線</tspan></text>
</svg></body></html>
